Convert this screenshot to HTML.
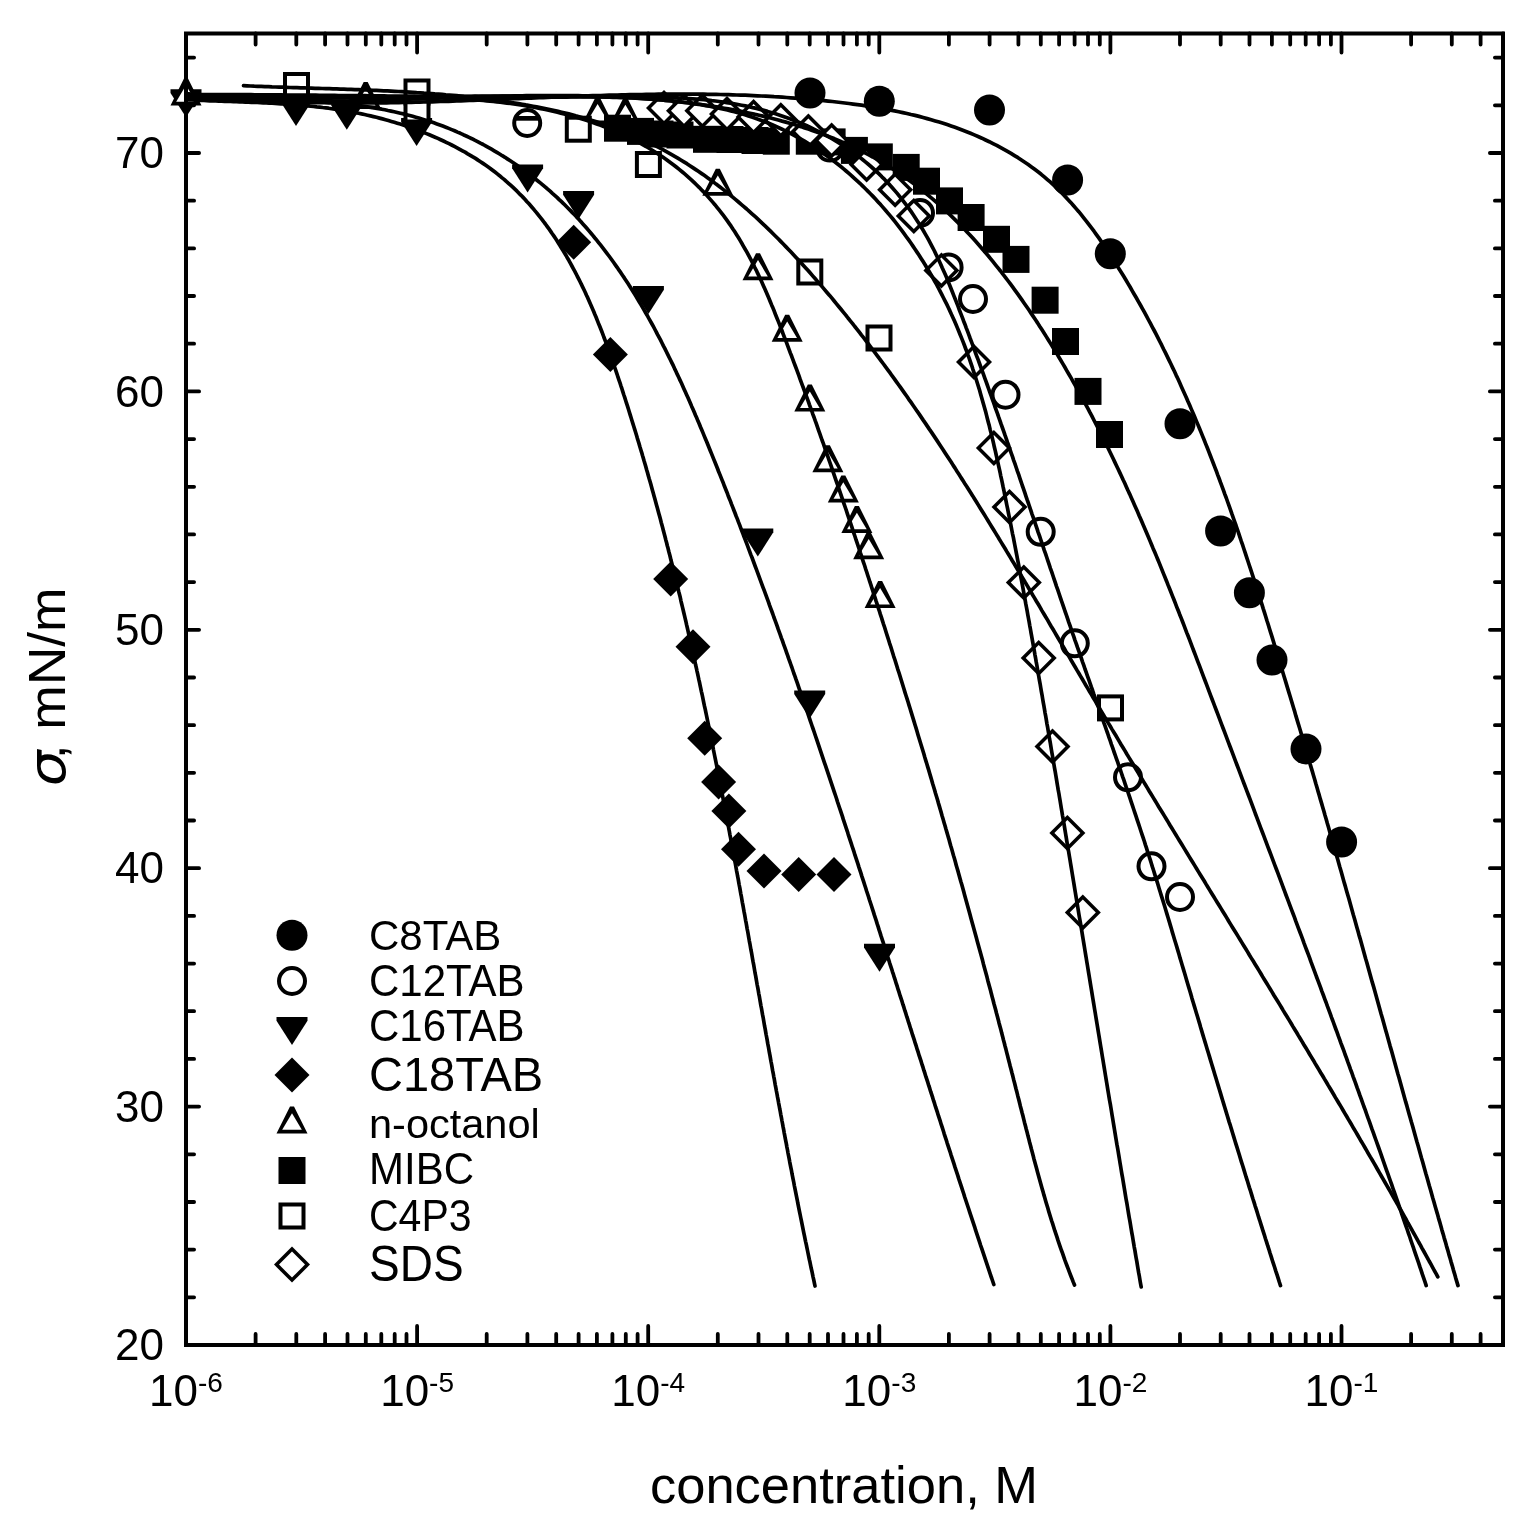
<!DOCTYPE html><html><head><meta charset="utf-8"><title>Surface tension vs concentration</title><style>html,body{margin:0;padding:0;background:#fff;}svg{display:block;}text{font-family:"Liberation Sans",Arial,sans-serif;fill:#000;}</style></head><body>
<svg width="1525" height="1525" viewBox="0 0 1525 1525">
<rect width="1525" height="1525" fill="#fff"/>
<g fill="#000">
<circle cx="810" cy="93" r="15.5" fill="#000"/>
<circle cx="879.3" cy="101.3" r="15.5" fill="#000"/>
<circle cx="989.5" cy="110" r="15.5" fill="#000"/>
<circle cx="1067.6" cy="180" r="15.5" fill="#000"/>
<circle cx="1110.3" cy="253.7" r="15.5" fill="#000"/>
<circle cx="1180" cy="423.7" r="15.5" fill="#000"/>
<circle cx="1220.6" cy="531" r="15.5" fill="#000"/>
<circle cx="1249.4" cy="592.8" r="15.5" fill="#000"/>
<circle cx="1272" cy="660" r="15.5" fill="#000"/>
<circle cx="1306" cy="749" r="15.5" fill="#000"/>
<circle cx="1341.6" cy="842" r="15.5" fill="#000"/>
<circle cx="527.2" cy="123" r="13" fill="#fff" stroke="#000" stroke-width="4"/>
<circle cx="830" cy="147.6" r="13" fill="#fff" stroke="#000" stroke-width="4"/>
<circle cx="920" cy="213" r="13" fill="#fff" stroke="#000" stroke-width="4"/>
<circle cx="948.6" cy="267.4" r="13" fill="#fff" stroke="#000" stroke-width="4"/>
<circle cx="973" cy="299" r="13" fill="#fff" stroke="#000" stroke-width="4"/>
<circle cx="1005.5" cy="394.7" r="13" fill="#fff" stroke="#000" stroke-width="4"/>
<circle cx="1040.7" cy="531.8" r="13" fill="#fff" stroke="#000" stroke-width="4"/>
<circle cx="1074.8" cy="643.3" r="13" fill="#fff" stroke="#000" stroke-width="4"/>
<circle cx="1128" cy="777.3" r="13" fill="#fff" stroke="#000" stroke-width="4"/>
<circle cx="1151.5" cy="866.3" r="13" fill="#fff" stroke="#000" stroke-width="4"/>
<circle cx="1180" cy="897" r="13" fill="#fff" stroke="#000" stroke-width="4"/>
<rect x="515" y="116" width="25" height="4.7" fill="#000"/>
<polygon fill="#000" points="170.50,89.30 201.50,89.30 201.50,93.00 186.00,117.30 170.50,93.00"/>
<polygon fill="#000" points="280.50,98.10 311.50,98.10 311.50,101.80 296.00,126.10 280.50,101.80"/>
<polygon fill="#000" points="331.30,101.80 362.30,101.80 362.30,105.50 346.80,129.80 331.30,105.50"/>
<polygon fill="#000" points="401.10,118.10 432.10,118.10 432.10,121.80 416.60,146.10 401.10,121.80"/>
<polygon fill="#000" points="512.10,164.50 543.10,164.50 543.10,168.20 527.60,192.50 512.10,168.20"/>
<polygon fill="#000" points="563.10,191.00 594.10,191.00 594.10,194.70 578.60,219.00 563.10,194.70"/>
<polygon fill="#000" points="632.90,286.00 663.90,286.00 663.90,289.70 648.40,314.00 632.90,289.70"/>
<polygon fill="#000" points="742.30,528.60 773.30,528.60 773.30,532.30 757.80,556.60 742.30,532.30"/>
<polygon fill="#000" points="794.20,690.40 825.20,690.40 825.20,694.10 809.70,718.40 794.20,694.10"/>
<polygon fill="#000" points="864.00,943.70 895.00,943.70 895.00,947.40 879.50,971.70 864.00,947.40"/>
<polygon fill="#000" points="573.70,224.80 591.20,242.30 573.70,259.80 556.20,242.30"/>
<polygon fill="#000" points="610.40,337.00 627.90,354.50 610.40,372.00 592.90,354.50"/>
<polygon fill="#000" points="670.70,561.50 688.20,579.00 670.70,596.50 653.20,579.00"/>
<polygon fill="#000" points="693.00,629.30 710.50,646.80 693.00,664.30 675.50,646.80"/>
<polygon fill="#000" points="704.70,720.80 722.20,738.30 704.70,755.80 687.20,738.30"/>
<polygon fill="#000" points="718.60,764.50 736.10,782.00 718.60,799.50 701.10,782.00"/>
<polygon fill="#000" points="728.90,793.50 746.40,811.00 728.90,828.50 711.40,811.00"/>
<polygon fill="#000" points="738.50,831.70 756.00,849.20 738.50,866.70 721.00,849.20"/>
<polygon fill="#000" points="764.00,853.50 781.50,871.00 764.00,888.50 746.50,871.00"/>
<polygon fill="#000" points="798.70,857.10 816.20,874.60 798.70,892.10 781.20,874.60"/>
<polygon fill="#000" points="834.00,857.10 851.50,874.60 834.00,892.10 816.50,874.60"/>
<polygon fill="#000" points="170.50,105.40 201.50,105.40 188.00,78.40 184.00,78.40"/><polygon fill="#fff" points="176.20,101.70 195.80,101.70 186.00,85.20"/>
<polygon fill="#000" points="350.20,109.10 381.20,109.10 367.70,82.10 363.70,82.10"/><polygon fill="#fff" points="355.90,105.40 375.50,105.40 365.70,88.90"/>
<polygon fill="#000" points="582.10,124.10 613.10,124.10 599.60,97.10 595.60,97.10"/><polygon fill="#fff" points="587.80,120.40 607.40,120.40 597.60,103.90"/>
<polygon fill="#000" points="609.90,124.90 640.90,124.90 627.40,97.90 623.40,97.90"/><polygon fill="#fff" points="615.60,121.20 635.20,121.20 625.40,104.70"/>
<polygon fill="#000" points="702.30,195.70 733.30,195.70 719.80,168.70 715.80,168.70"/><polygon fill="#fff" points="708.00,192.00 727.60,192.00 717.80,175.50"/>
<polygon fill="#000" points="742.50,280.20 773.50,280.20 760.00,253.20 756.00,253.20"/><polygon fill="#fff" points="748.20,276.50 767.80,276.50 758.00,260.00"/>
<polygon fill="#000" points="771.70,341.70 802.70,341.70 789.20,314.70 785.20,314.70"/><polygon fill="#fff" points="777.40,338.00 797.00,338.00 787.20,321.50"/>
<polygon fill="#000" points="794.30,411.60 825.30,411.60 811.80,384.60 807.80,384.60"/><polygon fill="#fff" points="800.00,407.90 819.60,407.90 809.80,391.40"/>
<polygon fill="#000" points="812.40,472.30 843.40,472.30 829.90,445.30 825.90,445.30"/><polygon fill="#fff" points="818.10,468.60 837.70,468.60 827.90,452.10"/>
<polygon fill="#000" points="827.80,502.50 858.80,502.50 845.30,475.50 841.30,475.50"/><polygon fill="#fff" points="833.50,498.80 853.10,498.80 843.30,482.30"/>
<polygon fill="#000" points="841.40,532.90 872.40,532.90 858.90,505.90 854.90,505.90"/><polygon fill="#fff" points="847.10,529.20 866.70,529.20 856.90,512.70"/>
<polygon fill="#000" points="853.20,559.30 884.20,559.30 870.70,532.30 866.70,532.30"/><polygon fill="#fff" points="858.90,555.60 878.50,555.60 868.70,539.10"/>
<polygon fill="#000" points="864.60,608.10 895.60,608.10 882.10,581.10 878.10,581.10"/><polygon fill="#fff" points="870.30,604.40 889.90,604.40 880.10,587.90"/>
<rect fill="#000" x="604.0" y="114.69999999999999" width="27" height="27"/>
<rect fill="#000" x="627.0" y="117.9" width="27" height="27"/>
<rect fill="#000" x="646.5" y="120.5" width="27" height="27"/>
<rect fill="#000" x="666.5" y="121.5" width="27" height="27"/>
<rect fill="#000" x="693.0" y="125.80000000000001" width="27" height="27"/>
<rect fill="#000" x="716.5" y="126.0" width="27" height="27"/>
<rect fill="#000" x="741.5" y="127.0" width="27" height="27"/>
<rect fill="#000" x="762.8" y="127.69999999999999" width="27" height="27"/>
<rect fill="#000" x="795.8" y="127.69999999999999" width="27" height="27"/>
<rect fill="#000" x="818.6" y="128.4" width="27" height="27"/>
<rect fill="#000" x="840.9" y="136.9" width="27" height="27"/>
<rect fill="#000" x="865.8" y="143.4" width="27" height="27"/>
<rect fill="#000" x="892.7" y="153.9" width="27" height="27"/>
<rect fill="#000" x="913.0" y="167.7" width="27" height="27"/>
<rect fill="#000" x="936.0" y="187.4" width="27" height="27"/>
<rect fill="#000" x="957.6" y="204.0" width="27" height="27"/>
<rect fill="#000" x="983.0" y="225.8" width="27" height="27"/>
<rect fill="#000" x="1002.5" y="245.89999999999998" width="27" height="27"/>
<rect fill="#000" x="1031.6" y="286.7" width="27" height="27"/>
<rect fill="#000" x="1052.0" y="328.0" width="27" height="27"/>
<rect fill="#000" x="1074.5" y="377.9" width="27" height="27"/>
<rect fill="#000" x="1096.0" y="421.0" width="27" height="27"/>
<rect fill="#000" x="283.0" y="72.0" width="27" height="27"/><rect fill="#fff" x="287.0" y="76.0" width="19" height="19"/>
<rect fill="#000" x="403.5" y="78.5" width="27" height="27"/><rect fill="#fff" x="407.5" y="82.5" width="19" height="19"/>
<rect fill="#000" x="403.5" y="96.5" width="27" height="27"/><rect fill="#fff" x="407.5" y="100.5" width="19" height="19"/>
<rect fill="#000" x="564.8" y="115.69999999999999" width="27" height="27"/><rect fill="#fff" x="568.8" y="119.69999999999999" width="19" height="19"/>
<rect fill="#000" x="634.9" y="151.0" width="27" height="27"/><rect fill="#fff" x="638.9" y="155.0" width="19" height="19"/>
<rect fill="#000" x="796.3" y="258.5" width="27" height="27"/><rect fill="#fff" x="800.3" y="262.5" width="19" height="19"/>
<rect fill="#000" x="865.5" y="324.5" width="27" height="27"/><rect fill="#fff" x="869.5" y="328.5" width="19" height="19"/>
<rect fill="#000" x="1097.0" y="694.4" width="27" height="27"/><rect fill="#fff" x="1101.0" y="698.4" width="19" height="19"/>
<polygon fill="#000" points="664.00,90.00 682.00,108.00 664.00,126.00 646.00,108.00"/><polygon fill="#fff" points="664.00,95.00 677.00,108.00 664.00,121.00 651.00,108.00"/>
<polygon fill="#000" points="684.00,92.70 702.00,110.70 684.00,128.70 666.00,110.70"/><polygon fill="#fff" points="684.00,97.70 697.00,110.70 684.00,123.70 671.00,110.70"/>
<polygon fill="#000" points="702.40,92.70 720.40,110.70 702.40,128.70 684.40,110.70"/><polygon fill="#fff" points="702.40,97.70 715.40,110.70 702.40,123.70 689.40,110.70"/>
<polygon fill="#000" points="727.00,96.00 745.00,114.00 727.00,132.00 709.00,114.00"/><polygon fill="#fff" points="727.00,101.00 740.00,114.00 727.00,127.00 714.00,114.00"/>
<polygon fill="#000" points="753.60,99.00 771.60,117.00 753.60,135.00 735.60,117.00"/><polygon fill="#fff" points="753.60,104.00 766.60,117.00 753.60,130.00 740.60,117.00"/>
<polygon fill="#000" points="780.80,102.20 798.80,120.20 780.80,138.20 762.80,120.20"/><polygon fill="#fff" points="780.80,107.20 793.80,120.20 780.80,133.20 767.80,120.20"/>
<polygon fill="#000" points="808.40,113.60 826.40,131.60 808.40,149.60 790.40,131.60"/><polygon fill="#fff" points="808.40,118.60 821.40,131.60 808.40,144.60 795.40,131.60"/>
<polygon fill="#000" points="831.60,122.60 849.60,140.60 831.60,158.60 813.60,140.60"/><polygon fill="#fff" points="831.60,127.60 844.60,140.60 831.60,153.60 818.60,140.60"/>
<polygon fill="#000" points="866.60,146.50 884.60,164.50 866.60,182.50 848.60,164.50"/><polygon fill="#fff" points="866.60,151.50 879.60,164.50 866.60,177.50 853.60,164.50"/>
<polygon fill="#000" points="895.10,171.80 913.10,189.80 895.10,207.80 877.10,189.80"/><polygon fill="#fff" points="895.10,176.80 908.10,189.80 895.10,202.80 882.10,189.80"/>
<polygon fill="#000" points="913.80,198.00 931.80,216.00 913.80,234.00 895.80,216.00"/><polygon fill="#fff" points="913.80,203.00 926.80,216.00 913.80,229.00 900.80,216.00"/>
<polygon fill="#000" points="941.40,252.60 959.40,270.60 941.40,288.60 923.40,270.60"/><polygon fill="#fff" points="941.40,257.60 954.40,270.60 941.40,283.60 928.40,270.60"/>
<polygon fill="#000" points="974.00,344.00 992.00,362.00 974.00,380.00 956.00,362.00"/><polygon fill="#fff" points="974.00,349.00 987.00,362.00 974.00,375.00 961.00,362.00"/>
<polygon fill="#000" points="993.90,430.00 1011.90,448.00 993.90,466.00 975.90,448.00"/><polygon fill="#fff" points="993.90,435.00 1006.90,448.00 993.90,461.00 980.90,448.00"/>
<polygon fill="#000" points="1009.50,489.00 1027.50,507.00 1009.50,525.00 991.50,507.00"/><polygon fill="#fff" points="1009.50,494.00 1022.50,507.00 1009.50,520.00 996.50,507.00"/>
<polygon fill="#000" points="1023.80,564.60 1041.80,582.60 1023.80,600.60 1005.80,582.60"/><polygon fill="#fff" points="1023.80,569.60 1036.80,582.60 1023.80,595.60 1010.80,582.60"/>
<polygon fill="#000" points="1038.70,640.00 1056.70,658.00 1038.70,676.00 1020.70,658.00"/><polygon fill="#fff" points="1038.70,645.00 1051.70,658.00 1038.70,671.00 1025.70,658.00"/>
<polygon fill="#000" points="1052.50,728.60 1070.50,746.60 1052.50,764.60 1034.50,746.60"/><polygon fill="#fff" points="1052.50,733.60 1065.50,746.60 1052.50,759.60 1039.50,746.60"/>
<polygon fill="#000" points="1067.40,815.00 1085.40,833.00 1067.40,851.00 1049.40,833.00"/><polygon fill="#fff" points="1067.40,820.00 1080.40,833.00 1067.40,846.00 1054.40,833.00"/>
<polygon fill="#000" points="1082.80,894.50 1100.80,912.50 1082.80,930.50 1064.80,912.50"/><polygon fill="#fff" points="1082.80,899.50 1095.80,912.50 1082.80,925.50 1069.80,912.50"/>
</g>
<g fill="none" stroke="#000" stroke-width="3.7" stroke-linejoin="round" stroke-linecap="round">
<path d="M186.0,99.6 L189.0,99.8 L192.0,99.9 L194.9,100.1 L197.9,100.2 L200.9,100.4 L203.9,100.5 L206.8,100.6 L209.8,100.8 L212.8,100.9 L215.7,101.0 L218.7,101.1 L221.7,101.2 L224.6,101.3 L227.6,101.4 L230.6,101.5 L233.5,101.6 L236.5,101.7 L239.5,101.8 L242.4,102.0 L245.4,102.1 L248.4,102.2 L251.4,102.3 L254.3,102.4 L257.3,102.5 L260.3,102.7 L263.2,102.8 L266.2,102.9 L269.2,103.1 L272.1,103.2 L275.1,103.4 L278.1,103.6 L281.0,103.8 L284.0,103.9 L287.0,104.1 L289.9,104.3 L292.9,104.6 L295.9,104.8 L298.9,105.0 L301.8,105.3 L304.8,105.6 L307.8,105.8 L310.8,106.1 L313.7,106.4 L316.7,106.8 L319.7,107.1 L322.7,107.5 L325.7,107.8 L328.6,108.2 L331.6,108.7 L334.6,109.1 L337.6,109.5 L340.6,110.0 L343.6,110.5 L346.5,111.0 L349.5,111.5 L352.5,112.1 L355.5,112.7 L358.5,113.3 L361.5,113.9 L364.5,114.5 L367.5,115.2 L370.5,115.9 L373.5,116.6 L376.5,117.3 L379.5,118.1 L382.5,118.9 L385.5,119.7 L388.4,120.5 L391.4,121.4 L394.4,122.3 L397.3,123.2 L400.3,124.1 L403.2,125.1 L406.2,126.1 L409.1,127.1 L412.1,128.1 L415.0,129.2 L417.9,130.2 L420.8,131.3 L423.7,132.5 L426.5,133.6 L429.4,134.8 L432.2,136.0 L435.1,137.2 L437.9,138.4 L440.7,139.7 L443.5,141.0 L446.2,142.3 L449.0,143.7 L451.7,145.0 L454.4,146.4 L457.1,147.8 L459.8,149.3 L462.5,150.8 L465.1,152.2 L467.7,153.8 L470.3,155.3 L472.9,156.9 L475.5,158.4 L478.0,160.1 L480.5,161.7 L483.0,163.4 L485.4,165.1 L487.9,166.8 L490.3,168.5 L492.6,170.3 L495.0,172.1 L497.3,173.9 L499.6,175.7 L501.8,177.6 L504.1,179.4 L506.3,181.4 L508.5,183.3 L510.6,185.2 L512.8,187.2 L514.9,189.2 L517.0,191.2 L519.0,193.3 L521.1,195.3 L523.1,197.4 L525.1,199.5 L527.0,201.7 L529.0,203.8 L530.9,206.0 L532.8,208.2 L534.6,210.4 L536.5,212.6 L538.3,214.9 L540.1,217.1 L541.9,219.4 L543.6,221.7 L545.4,224.0 L547.1,226.4 L548.8,228.7 L550.5,231.1 L552.1,233.5 L553.8,235.9 L555.4,238.3 L557.0,240.8 L558.5,243.2 L560.1,245.7 L561.6,248.2 L563.2,250.7 L564.7,253.2 L566.2,255.7 L567.6,258.3 L569.1,260.8 L570.5,263.4 L571.9,266.0 L573.3,268.6 L574.7,271.2 L576.1,273.8 L577.4,276.5 L578.8,279.1 L580.1,281.8 L581.4,284.4 L582.7,287.1 L584.0,289.8 L585.3,292.5 L586.5,295.2 L587.8,297.9 L589.0,300.7 L590.2,303.4 L591.4,306.2 L592.6,308.9 L593.8,311.7 L594.9,314.5 L596.1,317.3 L597.2,320.1 L598.3,322.9 L599.5,325.7 L600.6,328.5 L601.7,331.3 L602.8,334.1 L603.8,337.0 L604.9,339.8 L606.0,342.7 L607.0,345.5 L608.1,348.4 L609.1,351.2 L610.1,354.1 L611.1,357.0 L612.1,359.8 L613.1,362.7 L614.1,365.6 L615.1,368.5 L616.1,371.4 L617.1,374.3 L618.0,377.2 L619.0,380.1 L620.0,382.9 L620.9,385.8 L621.9,388.7 L622.8,391.6 L623.7,394.5 L624.7,397.4 L625.6,400.3 L626.5,403.2 L627.5,406.1 L628.4,409.0 L629.3,412.0 L630.2,414.9 L631.1,417.8 L632.0,420.7 L632.9,423.6 L633.8,426.5 L634.7,429.4 L635.6,432.3 L636.5,435.2 L637.3,438.1 L638.2,441.0 L639.1,443.9 L639.9,446.8 L640.8,449.7 L641.7,452.6 L642.5,455.5 L643.4,458.4 L644.2,461.3 L645.1,464.2 L645.9,467.1 L646.7,470.0 L647.6,472.9 L648.4,475.9 L649.2,478.8 L650.1,481.7 L650.9,484.6 L651.7,487.5 L652.5,490.4 L653.3,493.3 L654.1,496.2 L654.9,499.1 L655.7,502.0 L656.5,504.9 L657.3,507.8 L658.1,510.8 L658.9,513.7 L659.7,516.6 L660.5,519.5 L661.2,522.4 L662.0,525.3 L662.8,528.2 L663.5,531.1 L664.3,534.0 L665.1,537.0 L665.8,539.9 L666.6,542.8 L667.3,545.7 L668.1,548.6 L668.8,551.5 L669.6,554.4 L670.3,557.3 L671.0,560.3 L671.8,563.2 L672.5,566.1 L673.2,569.0 L674.0,571.9 L674.7,574.8 L675.4,577.7 L676.1,580.7 L676.8,583.6 L677.5,586.5 L678.2,589.4 L678.9,592.3 L679.7,595.2 L680.4,598.2 L681.0,601.1 L681.7,604.0 L682.4,606.9 L683.1,609.8 L683.8,612.7 L684.5,615.7 L685.2,618.6 L685.9,621.5 L686.5,624.4 L687.2,627.3 L687.9,630.3 L688.5,633.2 L689.2,636.1 L689.9,639.0 L690.5,641.9 L691.2,644.9 L691.9,647.8 L692.5,650.7 L693.2,653.6 L693.8,656.5 L694.5,659.5 L695.1,662.4 L695.7,665.3 L696.4,668.2 L697.0,671.1 L697.7,674.1 L698.3,677.0 L698.9,679.9 L699.6,682.8 L700.2,685.8 L700.8,688.7 L701.4,691.6 L702.1,694.5 L702.7,697.4 L703.3,700.4 L703.9,703.3 L704.5,706.2 L705.2,709.1 L705.8,712.1 L706.4,715.0 L707.0,717.9 L707.6,720.8 L708.2,723.8 L708.8,726.7 L709.4,729.6 L710.0,732.6 L710.6,735.5 L711.2,738.4 L711.8,741.3 L712.4,744.3 L713.0,747.2 L713.5,750.1 L714.1,753.0 L714.7,756.0 L715.3,758.9 L715.9,761.8 L716.5,764.8 L717.0,767.7 L717.6,770.6 L718.2,773.5 L718.8,776.5 L719.3,779.4 L719.9,782.3 L720.5,785.3 L721.1,788.2 L721.6,791.1 L722.2,794.1 L722.8,797.0 L723.3,799.9 L723.9,802.8 L724.4,805.8 L725.0,808.7 L725.6,811.6 L726.1,814.6 L726.7,817.5 L727.2,820.4 L727.8,823.4 L728.4,826.3 L728.9,829.2 L729.5,832.2 L730.0,835.1 L730.6,838.0 L731.1,841.0 L731.7,843.9 L732.2,846.8 L732.7,849.8 L733.3,852.7 L733.8,855.6 L734.4,858.6 L734.9,861.5 L735.5,864.4 L736.0,867.4 L736.5,870.3 L737.1,873.3 L737.6,876.2 L738.2,879.1 L738.7,882.1 L739.2,885.0 L739.8,887.9 L740.3,890.9 L740.8,893.8 L741.4,896.7 L741.9,899.7 L742.4,902.6 L743.0,905.6 L743.5,908.5 L744.0,911.4 L744.6,914.4 L745.1,917.3 L745.6,920.3 L746.2,923.2 L746.7,926.1 L747.2,929.1 L747.8,932.0 L748.3,935.0 L748.8,937.9 L749.3,940.8 L749.9,943.8 L750.4,946.7 L750.9,949.7 L751.5,952.6 L752.0,955.5 L752.5,958.5 L753.0,961.4 L753.6,964.4 L754.1,967.3 L754.6,970.2 L755.1,973.2 L755.7,976.1 L756.2,979.1 L756.7,982.0 L757.2,985.0 L757.8,987.9 L758.3,990.8 L758.8,993.8 L759.4,996.7 L759.9,999.7 L760.4,1002.6 L760.9,1005.6 L761.5,1008.5 L762.0,1011.5 L762.5,1014.4 L763.1,1017.3 L763.6,1020.3 L764.1,1023.2 L764.6,1026.2 L765.2,1029.1 L765.7,1032.1 L766.2,1035.0 L766.8,1038.0 L767.3,1040.9 L767.8,1043.9 L768.4,1046.8 L768.9,1049.7 L769.4,1052.7 L770.0,1055.6 L770.5,1058.6 L771.0,1061.5 L771.6,1064.5 L772.1,1067.4 L772.6,1070.4 L773.2,1073.3 L773.7,1076.3 L774.3,1079.2 L774.8,1082.2 L775.3,1085.1 L775.9,1088.1 L776.4,1091.0 L777.0,1094.0 L777.5,1096.9 L778.1,1099.9 L778.6,1102.8 L779.2,1105.8 L779.7,1108.7 L780.3,1111.7 L780.8,1114.6 L781.4,1117.6 L781.9,1120.5 L782.5,1123.5 L783.0,1126.4 L783.6,1129.4 L784.1,1132.3 L784.7,1135.3 L785.2,1138.2 L785.8,1141.2 L786.4,1144.1 L786.9,1147.1 L787.5,1150.0 L788.0,1153.0 L788.6,1155.9 L789.2,1158.9 L789.7,1161.8 L790.3,1164.8 L790.9,1167.8 L791.5,1170.7 L792.0,1173.7 L792.6,1176.6 L793.2,1179.6 L793.8,1182.5 L794.3,1185.5 L794.9,1188.4 L795.5,1191.4 L796.1,1194.3 L796.7,1197.3 L797.3,1200.3 L797.8,1203.2 L798.4,1206.2 L799.0,1209.1 L799.6,1212.1 L800.2,1215.0 L800.8,1218.0 L801.4,1220.9 L802.0,1223.9 L802.6,1226.9 L803.2,1229.8 L803.8,1232.8 L804.4,1235.7 L805.0,1238.7 L805.6,1241.6 L806.3,1244.6 L806.9,1247.6 L807.5,1250.5 L808.1,1253.5 L808.7,1256.4 L809.3,1259.4 L810.0,1262.3 L810.6,1265.3 L811.2,1268.3 L811.9,1271.2 L812.5,1274.2 L813.1,1277.1 L813.8,1280.1 L814.4,1283.1 L815.0,1286.0"/>
<path d="M186.0,98.2 L189.0,98.3 L192.1,98.3 L195.2,98.4 L198.2,98.4 L201.3,98.5 L204.4,98.5 L207.5,98.5 L210.5,98.6 L213.6,98.6 L216.8,98.6 L219.9,98.6 L223.0,98.7 L226.1,98.7 L229.2,98.7 L232.4,98.7 L235.5,98.8 L238.7,98.8 L241.8,98.8 L245.0,98.9 L248.2,98.9 L251.3,98.9 L254.5,99.0 L257.7,99.0 L260.8,99.1 L264.0,99.1 L267.2,99.2 L270.4,99.3 L273.6,99.4 L276.8,99.4 L280.0,99.5 L283.2,99.6 L286.3,99.7 L289.5,99.9 L292.7,100.0 L295.9,100.1 L299.1,100.3 L302.3,100.4 L305.5,100.6 L308.7,100.8 L311.9,101.0 L315.1,101.2 L318.3,101.4 L321.5,101.6 L324.7,101.9 L327.9,102.2 L331.1,102.4 L334.3,102.7 L337.5,103.0 L340.7,103.3 L343.9,103.7 L347.0,104.0 L350.2,104.4 L353.4,104.8 L356.6,105.2 L359.7,105.7 L362.9,106.1 L366.0,106.6 L369.2,107.1 L372.3,107.6 L375.5,108.1 L378.6,108.7 L381.7,109.2 L384.9,109.8 L388.0,110.5 L391.1,111.1 L394.2,111.8 L397.3,112.5 L400.4,113.2 L403.5,113.9 L406.6,114.7 L409.6,115.5 L412.7,116.3 L415.8,117.2 L418.8,118.0 L421.8,118.9 L424.9,119.9 L427.9,120.8 L430.9,121.8 L433.9,122.8 L436.9,123.9 L439.9,125.0 L442.8,126.1 L445.8,127.2 L448.7,128.4 L451.7,129.6 L454.6,130.8 L457.5,132.1 L460.4,133.3 L463.3,134.7 L466.2,136.0 L469.1,137.4 L471.9,138.7 L474.7,140.2 L477.6,141.6 L480.4,143.1 L483.2,144.5 L486.0,146.1 L488.7,147.6 L491.5,149.2 L494.2,150.8 L496.9,152.4 L499.6,154.0 L502.3,155.7 L505.0,157.3 L507.7,159.1 L510.3,160.8 L512.9,162.5 L515.5,164.3 L518.1,166.1 L520.7,167.9 L523.3,169.7 L525.8,171.6 L528.3,173.5 L530.8,175.4 L533.3,177.3 L535.7,179.2 L538.2,181.2 L540.6,183.1 L543.0,185.1 L545.4,187.1 L547.7,189.2 L550.1,191.2 L552.4,193.3 L554.7,195.3 L557.0,197.4 L559.2,199.6 L561.5,201.7 L563.7,203.8 L565.9,206.0 L568.1,208.2 L570.3,210.4 L572.4,212.6 L574.6,214.8 L576.7,217.1 L578.8,219.3 L580.8,221.6 L582.9,223.9 L585.0,226.2 L587.0,228.5 L589.0,230.9 L591.0,233.2 L593.0,235.6 L594.9,238.0 L596.9,240.4 L598.8,242.8 L600.7,245.2 L602.6,247.6 L604.5,250.1 L606.4,252.6 L608.2,255.0 L610.1,257.5 L611.9,260.0 L613.7,262.5 L615.5,265.1 L617.3,267.6 L619.0,270.2 L620.8,272.7 L622.5,275.3 L624.3,277.9 L626.0,280.5 L627.7,283.1 L629.4,285.7 L631.0,288.3 L632.7,291.0 L634.3,293.6 L636.0,296.3 L637.6,299.0 L639.2,301.7 L640.8,304.4 L642.4,307.1 L644.0,309.8 L645.5,312.5 L647.1,315.2 L648.6,318.0 L650.1,320.7 L651.7,323.5 L653.2,326.2 L654.7,329.0 L656.2,331.8 L657.6,334.6 L659.1,337.4 L660.6,340.2 L662.0,343.0 L663.4,345.8 L664.9,348.6 L666.3,351.5 L667.7,354.3 L669.1,357.2 L670.5,360.0 L671.9,362.9 L673.3,365.7 L674.6,368.6 L676.0,371.5 L677.3,374.4 L678.7,377.3 L680.0,380.1 L681.4,383.0 L682.7,385.9 L684.0,388.9 L685.3,391.8 L686.6,394.7 L687.9,397.6 L689.2,400.5 L690.5,403.5 L691.7,406.4 L693.0,409.3 L694.3,412.3 L695.5,415.2 L696.8,418.1 L698.0,421.1 L699.3,424.0 L700.5,427.0 L701.8,430.0 L703.0,432.9 L704.2,435.9 L705.4,438.8 L706.7,441.8 L707.9,444.8 L709.1,447.7 L710.3,450.7 L711.5,453.6 L712.7,456.6 L713.9,459.6 L715.1,462.5 L716.3,465.5 L717.5,468.5 L718.6,471.5 L719.8,474.4 L721.0,477.4 L722.2,480.4 L723.4,483.3 L724.5,486.3 L725.7,489.3 L726.9,492.2 L728.0,495.2 L729.2,498.2 L730.4,501.1 L731.5,504.1 L732.7,507.1 L733.8,510.0 L735.0,513.0 L736.1,516.0 L737.3,518.9 L738.4,521.9 L739.6,524.9 L740.7,527.9 L741.8,530.8 L743.0,533.8 L744.1,536.8 L745.2,539.7 L746.4,542.7 L747.5,545.7 L748.6,548.6 L749.7,551.6 L750.8,554.6 L752.0,557.5 L753.1,560.5 L754.2,563.5 L755.3,566.5 L756.4,569.4 L757.5,572.4 L758.6,575.4 L759.7,578.3 L760.8,581.3 L761.9,584.3 L763.0,587.3 L764.1,590.2 L765.2,593.2 L766.3,596.2 L767.4,599.1 L768.5,602.1 L769.5,605.1 L770.6,608.1 L771.7,611.0 L772.8,614.0 L773.8,617.0 L774.9,619.9 L776.0,622.9 L777.1,625.9 L778.1,628.9 L779.2,631.8 L780.3,634.8 L781.3,637.8 L782.4,640.7 L783.4,643.7 L784.5,646.7 L785.6,649.7 L786.6,652.6 L787.7,655.6 L788.7,658.6 L789.8,661.6 L790.8,664.5 L791.9,667.5 L792.9,670.5 L793.9,673.5 L795.0,676.4 L796.0,679.4 L797.1,682.4 L798.1,685.4 L799.1,688.3 L800.2,691.3 L801.2,694.3 L802.2,697.3 L803.3,700.2 L804.3,703.2 L805.3,706.2 L806.3,709.2 L807.4,712.1 L808.4,715.1 L809.4,718.1 L810.4,721.1 L811.4,724.0 L812.4,727.0 L813.5,730.0 L814.5,733.0 L815.5,736.0 L816.5,738.9 L817.5,741.9 L818.5,744.9 L819.5,747.9 L820.5,750.8 L821.5,753.8 L822.5,756.8 L823.5,759.8 L824.5,762.8 L825.5,765.7 L826.5,768.7 L827.5,771.7 L828.5,774.7 L829.5,777.7 L830.5,780.6 L831.5,783.6 L832.5,786.6 L833.5,789.6 L834.5,792.6 L835.5,795.5 L836.5,798.5 L837.4,801.5 L838.4,804.5 L839.4,807.5 L840.4,810.4 L841.4,813.4 L842.4,816.4 L843.3,819.4 L844.3,822.4 L845.3,825.4 L846.3,828.3 L847.3,831.3 L848.2,834.3 L849.2,837.3 L850.2,840.3 L851.2,843.3 L852.1,846.2 L853.1,849.2 L854.1,852.2 L855.0,855.2 L856.0,858.2 L857.0,861.2 L858.0,864.1 L858.9,867.1 L859.9,870.1 L860.9,873.1 L861.8,876.1 L862.8,879.1 L863.8,882.1 L864.7,885.0 L865.7,888.0 L866.6,891.0 L867.6,894.0 L868.6,897.0 L869.5,900.0 L870.5,903.0 L871.5,906.0 L872.4,908.9 L873.4,911.9 L874.3,914.9 L875.3,917.9 L876.3,920.9 L877.2,923.9 L878.2,926.9 L879.1,929.9 L880.1,932.9 L881.0,935.9 L882.0,938.8 L883.0,941.8 L883.9,944.8 L884.9,947.8 L885.8,950.8 L886.8,953.8 L887.7,956.8 L888.7,959.8 L889.6,962.8 L890.6,965.8 L891.6,968.8 L892.5,971.8 L893.5,974.7 L894.4,977.7 L895.4,980.7 L896.3,983.7 L897.3,986.7 L898.2,989.7 L899.2,992.7 L900.1,995.7 L901.1,998.7 L902.1,1001.7 L903.0,1004.7 L904.0,1007.7 L904.9,1010.7 L905.9,1013.7 L906.8,1016.7 L907.8,1019.7 L908.7,1022.7 L909.7,1025.7 L910.6,1028.7 L911.6,1031.7 L912.5,1034.7 L913.5,1037.7 L914.5,1040.7 L915.4,1043.7 L916.4,1046.7 L917.3,1049.7 L918.3,1052.7 L919.2,1055.7 L920.2,1058.7 L921.2,1061.7 L922.1,1064.7 L923.1,1067.7 L924.0,1070.7 L925.0,1073.7 L925.9,1076.7 L926.9,1079.7 L927.9,1082.7 L928.8,1085.7 L929.8,1088.7 L930.7,1091.7 L931.7,1094.7 L932.7,1097.7 L933.6,1100.7 L934.6,1103.7 L935.5,1106.7 L936.5,1109.7 L937.5,1112.7 L938.4,1115.7 L939.4,1118.7 L940.4,1121.7 L941.3,1124.7 L942.3,1127.7 L943.3,1130.8 L944.2,1133.8 L945.2,1136.8 L946.2,1139.8 L947.1,1142.8 L948.1,1145.8 L949.1,1148.8 L950.1,1151.8 L951.0,1154.8 L952.0,1157.8 L953.0,1160.8 L954.0,1163.9 L954.9,1166.9 L955.9,1169.9 L956.9,1172.9 L957.9,1175.9 L958.8,1178.9 L959.8,1181.9 L960.8,1184.9 L961.8,1187.9 L962.8,1191.0 L963.8,1194.0 L964.7,1197.0 L965.7,1200.0 L966.7,1203.0 L967.7,1206.0 L968.7,1209.0 L969.7,1212.1 L970.7,1215.1 L971.7,1218.1 L972.7,1221.1 L973.7,1224.1 L974.7,1227.1 L975.6,1230.2 L976.6,1233.2 L977.6,1236.2 L978.6,1239.2 L979.6,1242.2 L980.6,1245.3 L981.7,1248.3 L982.7,1251.3 L983.7,1254.3 L984.7,1257.3 L985.7,1260.4 L986.7,1263.4 L987.7,1266.4 L988.7,1269.4 L989.7,1272.4 L990.7,1275.5 L991.8,1278.5 L992.8,1281.5 L993.8,1284.5"/>
<path d="M186.0,94.0 L189.3,94.4 L192.5,94.7 L195.8,95.1 L199.1,95.4 L202.4,95.7 L205.6,95.9 L208.9,96.2 L212.2,96.5 L215.6,96.7 L218.9,96.9 L222.2,97.1 L225.5,97.3 L228.9,97.5 L232.2,97.6 L235.5,97.8 L238.9,97.9 L242.3,98.0 L245.6,98.1 L249.0,98.2 L252.4,98.3 L255.7,98.4 L259.1,98.4 L262.5,98.5 L265.9,98.5 L269.3,98.5 L272.7,98.6 L276.1,98.6 L279.5,98.6 L282.9,98.6 L286.3,98.6 L289.7,98.6 L293.2,98.6 L296.6,98.5 L300.0,98.5 L303.4,98.5 L306.9,98.4 L310.3,98.4 L313.8,98.3 L317.2,98.3 L320.6,98.2 L324.1,98.2 L327.5,98.1 L331.0,98.1 L334.4,98.0 L337.9,97.9 L341.4,97.9 L344.8,97.8 L348.3,97.7 L351.7,97.7 L355.2,97.6 L358.7,97.6 L362.1,97.5 L365.6,97.5 L369.1,97.4 L372.5,97.4 L376.0,97.3 L379.5,97.3 L382.9,97.3 L386.4,97.2 L389.9,97.2 L393.4,97.2 L396.8,97.2 L400.3,97.2 L403.8,97.2 L407.2,97.2 L410.7,97.3 L414.2,97.3 L417.6,97.3 L421.1,97.4 L424.6,97.5 L428.0,97.5 L431.5,97.6 L434.9,97.7 L438.4,97.8 L441.9,97.9 L445.3,98.1 L448.8,98.2 L452.2,98.4 L455.7,98.5 L459.1,98.7 L462.6,98.9 L466.0,99.1 L469.4,99.4 L472.9,99.6 L476.3,99.9 L479.7,100.2 L483.2,100.5 L486.6,100.8 L490.0,101.1 L493.4,101.5 L496.8,101.8 L500.2,102.2 L503.6,102.6 L507.0,103.1 L510.4,103.5 L513.8,104.0 L517.2,104.5 L520.6,105.0 L524.0,105.5 L527.3,106.1 L530.7,106.7 L534.1,107.3 L537.4,107.9 L540.8,108.6 L544.1,109.3 L547.5,110.0 L550.8,110.7 L554.1,111.5 L557.4,112.3 L560.8,113.1 L564.1,113.9 L567.4,114.8 L570.7,115.7 L574.0,116.6 L577.3,117.6 L580.5,118.6 L583.8,119.6 L587.0,120.6 L590.3,121.7 L593.5,122.8 L596.7,123.9 L600.0,125.1 L603.1,126.3 L606.3,127.5 L609.5,128.8 L612.6,130.1 L615.8,131.4 L618.9,132.8 L622.0,134.2 L625.1,135.6 L628.1,137.1 L631.2,138.6 L634.2,140.1 L637.2,141.6 L640.2,143.2 L643.1,144.9 L646.1,146.5 L649.0,148.2 L651.9,150.0 L654.7,151.8 L657.6,153.6 L660.4,155.4 L663.1,157.3 L665.9,159.2 L668.6,161.2 L671.3,163.2 L674.0,165.2 L676.6,167.3 L679.2,169.4 L681.8,171.5 L684.4,173.7 L686.9,175.9 L689.4,178.1 L691.9,180.3 L694.3,182.6 L696.7,185.0 L699.1,187.3 L701.4,189.7 L703.8,192.1 L706.1,194.6 L708.3,197.1 L710.5,199.6 L712.7,202.1 L714.9,204.7 L717.0,207.3 L719.1,209.9 L721.2,212.6 L723.2,215.2 L725.2,217.9 L727.2,220.7 L729.1,223.4 L731.1,226.2 L732.9,229.0 L734.8,231.8 L736.6,234.7 L738.4,237.5 L740.1,240.4 L741.8,243.3 L743.5,246.3 L745.2,249.2 L746.9,252.2 L748.5,255.2 L750.1,258.2 L751.7,261.2 L753.2,264.2 L754.7,267.3 L756.3,270.3 L757.7,273.4 L759.2,276.5 L760.7,279.6 L762.1,282.7 L763.5,285.9 L764.9,289.0 L766.3,292.2 L767.6,295.3 L769.0,298.5 L770.3,301.7 L771.6,304.9 L773.0,308.1 L774.3,311.3 L775.5,314.5 L776.8,317.7 L778.1,320.9 L779.4,324.1 L780.6,327.3 L781.9,330.5 L783.1,333.8 L784.3,337.0 L785.6,340.2 L786.8,343.4 L788.0,346.7 L789.2,349.9 L790.4,353.1 L791.7,356.3 L792.9,359.6 L794.1,362.8 L795.3,366.0 L796.5,369.2 L797.7,372.4 L798.9,375.7 L800.0,378.9 L801.2,382.1 L802.4,385.3 L803.6,388.5 L804.8,391.8 L805.9,395.0 L807.1,398.2 L808.3,401.4 L809.4,404.6 L810.6,407.8 L811.8,411.0 L812.9,414.3 L814.1,417.5 L815.2,420.7 L816.4,423.9 L817.5,427.1 L818.6,430.3 L819.8,433.6 L820.9,436.8 L822.0,440.0 L823.2,443.2 L824.3,446.4 L825.4,449.6 L826.5,452.8 L827.7,456.1 L828.8,459.3 L829.9,462.5 L831.0,465.7 L832.1,468.9 L833.2,472.1 L834.3,475.3 L835.4,478.6 L836.5,481.8 L837.6,485.0 L838.7,488.2 L839.8,491.4 L840.9,494.6 L842.0,497.9 L843.1,501.1 L844.2,504.3 L845.3,507.5 L846.4,510.7 L847.4,513.9 L848.5,517.2 L849.6,520.4 L850.7,523.6 L851.8,526.8 L852.8,530.1 L853.9,533.3 L855.0,536.5 L856.0,539.7 L857.1,542.9 L858.2,546.2 L859.3,549.4 L860.3,552.6 L861.4,555.8 L862.4,559.1 L863.5,562.3 L864.6,565.5 L865.6,568.8 L866.7,572.0 L867.7,575.2 L868.8,578.5 L869.8,581.7 L870.9,584.9 L871.9,588.2 L873.0,591.4 L874.0,594.6 L875.1,597.9 L876.1,601.1 L877.2,604.3 L878.2,607.6 L879.3,610.8 L880.3,614.1 L881.4,617.3 L882.4,620.6 L883.4,623.8 L884.5,627.0 L885.5,630.3 L886.5,633.5 L887.6,636.8 L888.6,640.0 L889.6,643.3 L890.7,646.5 L891.7,649.8 L892.7,653.0 L893.7,656.3 L894.8,659.5 L895.8,662.8 L896.8,666.0 L897.8,669.3 L898.9,672.5 L899.9,675.8 L900.9,679.0 L901.9,682.3 L902.9,685.5 L903.9,688.8 L904.9,692.1 L905.9,695.3 L907.0,698.6 L908.0,701.8 L909.0,705.1 L910.0,708.3 L911.0,711.6 L912.0,714.9 L913.0,718.1 L914.0,721.4 L915.0,724.7 L916.0,727.9 L917.0,731.2 L917.9,734.4 L918.9,737.7 L919.9,741.0 L920.9,744.2 L921.9,747.5 L922.9,750.8 L923.9,754.0 L924.8,757.3 L925.8,760.6 L926.8,763.8 L927.8,767.1 L928.8,770.4 L929.7,773.6 L930.7,776.9 L931.7,780.2 L932.6,783.5 L933.6,786.7 L934.6,790.0 L935.5,793.3 L936.5,796.5 L937.5,799.8 L938.4,803.1 L939.4,806.4 L940.3,809.6 L941.3,812.9 L942.2,816.2 L943.2,819.5 L944.1,822.7 L945.1,826.0 L946.0,829.3 L947.0,832.6 L947.9,835.8 L948.9,839.1 L949.8,842.4 L950.7,845.7 L951.7,849.0 L952.6,852.2 L953.5,855.5 L954.5,858.8 L955.4,862.1 L956.3,865.4 L957.2,868.6 L958.2,871.9 L959.1,875.2 L960.0,878.5 L960.9,881.8 L961.9,885.0 L962.8,888.3 L963.7,891.6 L964.6,894.9 L965.5,898.2 L966.4,901.5 L967.3,904.7 L968.2,908.0 L969.1,911.3 L970.0,914.6 L970.9,917.9 L971.8,921.2 L972.7,924.5 L973.6,927.7 L974.5,931.0 L975.4,934.3 L976.3,937.6 L977.2,940.9 L978.1,944.2 L979.0,947.5 L979.9,950.8 L980.8,954.1 L981.7,957.3 L982.6,960.6 L983.4,963.9 L984.3,967.2 L985.2,970.5 L986.1,973.8 L987.0,977.1 L987.8,980.4 L988.7,983.7 L989.6,987.0 L990.5,990.3 L991.3,993.6 L992.2,996.9 L993.1,1000.2 L993.9,1003.5 L994.8,1006.7 L995.7,1010.0 L996.5,1013.3 L997.4,1016.6 L998.3,1019.9 L999.1,1023.2 L1000.0,1026.5 L1000.9,1029.8 L1001.7,1033.1 L1002.6,1036.4 L1003.4,1039.7 L1004.3,1043.0 L1005.1,1046.3 L1006.0,1049.6 L1006.8,1052.9 L1007.7,1056.3 L1008.5,1059.6 L1009.4,1062.9 L1010.2,1066.2 L1011.1,1069.5 L1011.9,1072.8 L1012.8,1076.1 L1013.6,1079.4 L1014.5,1082.7 L1015.3,1086.0 L1016.1,1089.3 L1017.0,1092.6 L1017.8,1095.9 L1018.7,1099.2 L1019.5,1102.5 L1020.3,1105.9 L1021.2,1109.2 L1022.0,1112.5 L1022.9,1115.8 L1023.7,1119.1 L1024.5,1122.4 L1025.4,1125.7 L1026.2,1129.0 L1027.1,1132.3 L1027.9,1135.6 L1028.8,1138.9 L1029.6,1142.2 L1030.5,1145.5 L1031.3,1148.8 L1032.2,1152.1 L1033.1,1155.4 L1033.9,1158.7 L1034.8,1162.0 L1035.7,1165.3 L1036.6,1168.6 L1037.5,1171.9 L1038.4,1175.2 L1039.3,1178.5 L1040.2,1181.8 L1041.1,1185.1 L1042.0,1188.3 L1043.0,1191.6 L1043.9,1194.9 L1044.9,1198.2 L1045.8,1201.4 L1046.8,1204.7 L1047.8,1208.0 L1048.7,1211.2 L1049.7,1214.5 L1050.7,1217.7 L1051.7,1221.0 L1052.8,1224.2 L1053.8,1227.5 L1054.8,1230.7 L1055.9,1233.9 L1057.0,1237.2 L1058.0,1240.4 L1059.1,1243.6 L1060.2,1246.8 L1061.3,1250.0 L1062.5,1253.2 L1063.6,1256.4 L1064.7,1259.6 L1065.9,1262.8 L1067.1,1266.0 L1068.3,1269.2 L1069.5,1272.4 L1070.7,1275.5 L1072.0,1278.7 L1073.2,1281.9 L1074.5,1285.0"/>
<path d="M186.0,95.0 L189.7,95.2 L193.4,95.3 L197.2,95.5 L200.9,95.6 L204.6,95.8 L208.3,95.9 L212.0,96.1 L215.7,96.2 L219.4,96.3 L223.1,96.4 L226.8,96.5 L230.6,96.6 L234.3,96.7 L238.0,96.8 L241.7,96.9 L245.4,97.0 L249.1,97.1 L252.8,97.1 L256.5,97.2 L260.2,97.3 L263.9,97.3 L267.6,97.4 L271.3,97.4 L275.0,97.5 L278.7,97.5 L282.4,97.5 L286.1,97.6 L289.8,97.6 L293.5,97.6 L297.2,97.6 L300.9,97.6 L304.6,97.7 L308.3,97.7 L312.0,97.7 L315.7,97.7 L319.4,97.7 L323.1,97.7 L326.8,97.6 L330.5,97.6 L334.2,97.6 L337.9,97.6 L341.6,97.6 L345.3,97.6 L349.0,97.5 L352.7,97.5 L356.4,97.5 L360.1,97.5 L363.8,97.4 L367.5,97.4 L371.2,97.4 L374.9,97.3 L378.6,97.3 L382.3,97.2 L386.0,97.2 L389.7,97.2 L393.4,97.1 L397.1,97.1 L400.8,97.0 L404.5,97.0 L408.2,97.0 L411.9,96.9 L415.6,96.9 L419.3,96.8 L423.0,96.8 L426.7,96.7 L430.4,96.7 L434.1,96.6 L437.8,96.6 L441.5,96.6 L445.2,96.5 L448.9,96.5 L452.6,96.4 L456.3,96.4 L460.0,96.4 L463.7,96.3 L467.5,96.3 L471.2,96.3 L474.9,96.2 L478.6,96.2 L482.3,96.2 L486.0,96.2 L489.7,96.1 L493.4,96.1 L497.2,96.1 L500.9,96.1 L504.6,96.1 L508.3,96.1 L512.0,96.0 L515.8,96.0 L519.5,96.0 L523.2,96.0 L526.9,96.0 L530.7,96.1 L534.4,96.1 L538.1,96.1 L541.9,96.1 L545.6,96.1 L549.3,96.2 L553.1,96.2 L556.8,96.2 L560.5,96.3 L564.3,96.3 L568.0,96.3 L571.8,96.4 L575.5,96.5 L579.2,96.5 L583.0,96.6 L586.7,96.7 L590.5,96.7 L594.2,96.8 L598.0,96.9 L601.8,97.0 L605.5,97.1 L609.3,97.2 L613.0,97.3 L616.8,97.4 L620.5,97.6 L624.3,97.7 L628.0,97.9 L631.8,98.0 L635.6,98.2 L639.3,98.4 L643.1,98.6 L646.8,98.9 L650.5,99.1 L654.3,99.4 L658.0,99.7 L661.7,100.0 L665.4,100.3 L669.2,100.6 L672.9,101.0 L676.6,101.4 L680.3,101.8 L683.9,102.3 L687.6,102.7 L691.3,103.2 L694.9,103.8 L698.6,104.3 L702.2,104.9 L705.9,105.6 L709.5,106.2 L713.1,106.9 L716.7,107.6 L720.2,108.4 L723.8,109.2 L727.4,110.0 L730.9,110.9 L734.4,111.8 L737.9,112.8 L741.4,113.8 L744.9,114.8 L748.4,115.9 L751.8,117.0 L755.3,118.2 L758.7,119.4 L762.1,120.7 L765.5,122.0 L768.8,123.3 L772.2,124.7 L775.5,126.2 L778.8,127.7 L782.1,129.2 L785.3,130.8 L788.6,132.4 L791.8,134.1 L795.0,135.8 L798.2,137.6 L801.4,139.4 L804.5,141.2 L807.6,143.1 L810.7,145.0 L813.8,147.0 L816.9,148.9 L819.9,151.0 L822.9,153.1 L825.9,155.2 L828.9,157.3 L831.8,159.5 L834.7,161.7 L837.6,164.0 L840.5,166.3 L843.3,168.6 L846.1,171.0 L848.9,173.4 L851.7,175.8 L854.4,178.3 L857.2,180.8 L859.9,183.3 L862.5,185.9 L865.2,188.5 L867.8,191.1 L870.4,193.7 L873.0,196.4 L875.5,199.1 L878.1,201.9 L880.6,204.6 L883.0,207.4 L885.5,210.2 L887.9,213.1 L890.3,215.9 L892.7,218.8 L895.0,221.7 L897.3,224.7 L899.6,227.6 L901.9,230.6 L904.1,233.6 L906.3,236.7 L908.5,239.7 L910.7,242.8 L912.8,245.9 L914.9,249.0 L917.0,252.1 L919.1,255.2 L921.1,258.4 L923.1,261.6 L925.1,264.8 L927.0,268.0 L929.0,271.2 L930.9,274.4 L932.7,277.7 L934.6,281.0 L936.4,284.2 L938.2,287.5 L939.9,290.8 L941.6,294.2 L943.3,297.5 L945.0,300.8 L946.7,304.2 L948.3,307.5 L949.9,310.9 L951.4,314.3 L953.0,317.7 L954.5,321.1 L956.0,324.5 L957.4,327.9 L958.8,331.3 L960.2,334.7 L961.6,338.1 L963.0,341.6 L964.3,345.0 L965.6,348.5 L966.9,351.9 L968.1,355.4 L969.4,358.8 L970.6,362.3 L971.8,365.8 L972.9,369.3 L974.1,372.8 L975.2,376.3 L976.3,379.8 L977.4,383.3 L978.5,386.8 L979.6,390.3 L980.6,393.9 L981.6,397.4 L982.6,400.9 L983.6,404.5 L984.6,408.0 L985.6,411.6 L986.5,415.1 L987.4,418.7 L988.3,422.2 L989.3,425.8 L990.1,429.4 L991.0,432.9 L991.9,436.5 L992.8,440.1 L993.6,443.7 L994.4,447.3 L995.3,450.9 L996.1,454.5 L996.9,458.1 L997.7,461.7 L998.5,465.3 L999.3,468.9 L1000.1,472.5 L1000.8,476.1 L1001.6,479.7 L1002.4,483.3 L1003.1,486.9 L1003.9,490.5 L1004.6,494.2 L1005.4,497.8 L1006.1,501.4 L1006.8,505.0 L1007.6,508.7 L1008.3,512.3 L1009.0,515.9 L1009.8,519.6 L1010.5,523.2 L1011.2,526.8 L1011.9,530.5 L1012.6,534.1 L1013.4,537.7 L1014.1,541.4 L1014.8,545.0 L1015.5,548.6 L1016.2,552.3 L1016.9,555.9 L1017.6,559.6 L1018.3,563.2 L1019.0,566.9 L1019.6,570.5 L1020.3,574.2 L1021.0,577.8 L1021.7,581.5 L1022.4,585.1 L1023.1,588.8 L1023.7,592.4 L1024.4,596.1 L1025.1,599.7 L1025.7,603.4 L1026.4,607.0 L1027.1,610.7 L1027.7,614.3 L1028.4,618.0 L1029.1,621.6 L1029.7,625.3 L1030.4,629.0 L1031.0,632.6 L1031.7,636.3 L1032.3,639.9 L1033.0,643.6 L1033.6,647.2 L1034.3,650.9 L1034.9,654.6 L1035.6,658.2 L1036.2,661.9 L1036.9,665.5 L1037.5,669.2 L1038.1,672.9 L1038.8,676.5 L1039.4,680.2 L1040.1,683.8 L1040.7,687.5 L1041.3,691.1 L1042.0,694.8 L1042.6,698.5 L1043.2,702.1 L1043.9,705.8 L1044.5,709.4 L1045.1,713.1 L1045.8,716.7 L1046.4,720.4 L1047.0,724.1 L1047.7,727.7 L1048.3,731.4 L1048.9,735.0 L1049.5,738.7 L1050.2,742.3 L1050.8,746.0 L1051.4,749.7 L1052.0,753.3 L1052.7,757.0 L1053.3,760.6 L1053.9,764.3 L1054.5,767.9 L1055.2,771.6 L1055.8,775.3 L1056.4,778.9 L1057.0,782.6 L1057.6,786.2 L1058.2,789.9 L1058.9,793.5 L1059.5,797.2 L1060.1,800.8 L1060.7,804.5 L1061.3,808.2 L1061.9,811.8 L1062.5,815.5 L1063.2,819.1 L1063.8,822.8 L1064.4,826.4 L1065.0,830.1 L1065.6,833.7 L1066.2,837.4 L1066.8,841.1 L1067.4,844.7 L1068.0,848.4 L1068.7,852.0 L1069.3,855.7 L1069.9,859.3 L1070.5,863.0 L1071.1,866.6 L1071.7,870.3 L1072.3,874.0 L1072.9,877.6 L1073.5,881.3 L1074.1,884.9 L1074.7,888.6 L1075.3,892.2 L1075.9,895.9 L1076.5,899.5 L1077.1,903.2 L1077.7,906.8 L1078.3,910.5 L1078.9,914.2 L1079.5,917.8 L1080.2,921.5 L1080.8,925.1 L1081.4,928.8 L1082.0,932.4 L1082.6,936.1 L1083.2,939.7 L1083.8,943.4 L1084.4,947.0 L1085.0,950.7 L1085.6,954.4 L1086.2,958.0 L1086.8,961.7 L1087.4,965.3 L1088.0,969.0 L1088.6,972.6 L1089.2,976.3 L1089.8,979.9 L1090.4,983.6 L1091.0,987.2 L1091.6,990.9 L1092.2,994.6 L1092.8,998.2 L1093.4,1001.9 L1094.0,1005.5 L1094.6,1009.2 L1095.2,1012.8 L1095.8,1016.5 L1096.4,1020.1 L1097.0,1023.8 L1097.6,1027.4 L1098.2,1031.1 L1098.8,1034.8 L1099.4,1038.4 L1100.0,1042.1 L1100.6,1045.7 L1101.2,1049.4 L1101.8,1053.0 L1102.4,1056.7 L1103.0,1060.3 L1103.6,1064.0 L1104.2,1067.6 L1104.8,1071.3 L1105.4,1075.0 L1106.0,1078.6 L1106.6,1082.3 L1107.2,1085.9 L1107.8,1089.6 L1108.4,1093.2 L1109.0,1096.9 L1109.6,1100.5 L1110.3,1104.2 L1110.9,1107.8 L1111.5,1111.5 L1112.1,1115.2 L1112.7,1118.8 L1113.3,1122.5 L1113.9,1126.1 L1114.5,1129.8 L1115.1,1133.4 L1115.7,1137.1 L1116.3,1140.7 L1116.9,1144.4 L1117.6,1148.1 L1118.2,1151.7 L1118.8,1155.4 L1119.4,1159.0 L1120.0,1162.7 L1120.6,1166.3 L1121.2,1170.0 L1121.8,1173.6 L1122.5,1177.3 L1123.1,1181.0 L1123.7,1184.6 L1124.3,1188.3 L1124.9,1191.9 L1125.5,1195.6 L1126.1,1199.2 L1126.8,1202.9 L1127.4,1206.5 L1128.0,1210.2 L1128.6,1213.9 L1129.2,1217.5 L1129.9,1221.2 L1130.5,1224.8 L1131.1,1228.5 L1131.7,1232.1 L1132.4,1235.8 L1133.0,1239.5 L1133.6,1243.1 L1134.2,1246.8 L1134.9,1250.4 L1135.5,1254.1 L1136.1,1257.7 L1136.8,1261.4 L1137.4,1265.1 L1138.0,1268.7 L1138.6,1272.4 L1139.3,1276.0 L1139.9,1279.7 L1140.5,1283.3 L1141.2,1287.0"/>
<path d="M186.0,94.5 L189.8,94.5 L193.7,94.5 L197.5,94.5 L201.3,94.5 L205.2,94.5 L209.0,94.5 L212.8,94.5 L216.6,94.6 L220.5,94.6 L224.3,94.6 L228.1,94.6 L231.9,94.6 L235.7,94.6 L239.6,94.7 L243.4,94.7 L247.2,94.7 L251.0,94.7 L254.8,94.8 L258.6,94.8 L262.5,94.8 L266.3,94.8 L270.1,94.9 L273.9,94.9 L277.7,94.9 L281.5,94.9 L285.3,95.0 L289.1,95.0 L292.9,95.0 L296.7,95.1 L300.5,95.1 L304.3,95.1 L308.1,95.2 L311.9,95.2 L315.7,95.2 L319.5,95.3 L323.3,95.3 L327.1,95.3 L330.9,95.4 L334.7,95.4 L338.5,95.5 L342.3,95.5 L346.1,95.5 L349.9,95.6 L353.7,95.6 L357.5,95.6 L361.3,95.7 L365.1,95.7 L368.9,95.8 L372.7,95.8 L376.5,95.8 L380.3,95.9 L384.1,95.9 L387.9,96.0 L391.7,96.0 L395.5,96.0 L399.3,96.1 L403.1,96.1 L406.9,96.1 L410.6,96.2 L414.4,96.2 L418.2,96.3 L422.0,96.3 L425.8,96.3 L429.6,96.4 L433.4,96.4 L437.2,96.4 L441.0,96.5 L444.8,96.5 L448.6,96.5 L452.4,96.6 L456.2,96.6 L460.0,96.6 L463.8,96.7 L467.6,96.7 L471.4,96.7 L475.2,96.7 L479.0,96.8 L482.8,96.8 L486.6,96.8 L490.4,96.8 L494.2,96.9 L498.0,96.9 L501.8,96.9 L505.6,96.9 L509.4,96.9 L513.2,97.0 L517.0,97.0 L520.8,97.0 L524.6,97.0 L528.4,97.0 L532.3,97.0 L536.1,97.0 L539.9,97.0 L543.7,97.0 L547.5,97.0 L551.3,97.1 L555.1,97.1 L558.9,97.1 L562.8,97.1 L566.6,97.1 L570.4,97.0 L574.2,97.0 L578.0,97.0 L581.9,97.0 L585.7,97.0 L589.5,97.0 L593.3,97.0 L597.2,97.0 L601.0,97.0 L604.8,96.9 L608.7,96.9 L612.5,96.9 L616.3,96.9 L620.2,96.9 L624.0,96.9 L627.8,96.8 L631.7,96.9 L635.5,96.9 L639.3,96.9 L643.2,96.9 L647.0,97.0 L650.8,97.0 L654.6,97.1 L658.5,97.2 L662.3,97.3 L666.1,97.4 L669.9,97.5 L673.7,97.7 L677.6,97.8 L681.4,98.0 L685.2,98.3 L689.0,98.5 L692.8,98.8 L696.6,99.1 L700.3,99.4 L704.1,99.7 L707.9,100.1 L711.7,100.6 L715.4,101.0 L719.2,101.5 L723.0,102.0 L726.7,102.6 L730.5,103.2 L734.2,103.8 L737.9,104.5 L741.6,105.2 L745.4,105.9 L749.1,106.7 L752.8,107.6 L756.5,108.4 L760.2,109.4 L763.8,110.4 L767.5,111.4 L771.1,112.5 L774.8,113.6 L778.4,114.8 L782.0,116.0 L785.6,117.3 L789.2,118.6 L792.8,119.9 L796.4,121.3 L799.9,122.8 L803.4,124.3 L806.9,125.8 L810.4,127.4 L813.8,129.1 L817.3,130.8 L820.7,132.5 L824.0,134.3 L827.4,136.1 L830.7,138.0 L834.0,139.9 L837.3,141.9 L840.5,143.9 L843.7,145.9 L846.9,148.0 L850.0,150.2 L853.1,152.4 L856.2,154.6 L859.2,156.9 L862.2,159.2 L865.1,161.6 L868.0,164.0 L870.9,166.5 L873.7,169.0 L876.5,171.5 L879.3,174.1 L881.9,176.8 L884.6,179.4 L887.2,182.2 L889.8,184.9 L892.3,187.7 L894.8,190.6 L897.2,193.4 L899.6,196.4 L902.0,199.3 L904.3,202.3 L906.6,205.3 L908.8,208.4 L911.0,211.4 L913.1,214.5 L915.2,217.7 L917.3,220.9 L919.3,224.0 L921.3,227.3 L923.3,230.5 L925.2,233.8 L927.1,237.1 L928.9,240.4 L930.7,243.8 L932.4,247.1 L934.2,250.5 L935.8,253.9 L937.5,257.3 L939.1,260.8 L940.7,264.2 L942.2,267.7 L943.8,271.2 L945.3,274.6 L946.8,278.1 L948.2,281.7 L949.7,285.2 L951.1,288.7 L952.5,292.2 L953.9,295.8 L955.3,299.3 L956.7,302.9 L958.1,306.4 L959.4,310.0 L960.8,313.6 L962.2,317.1 L963.5,320.7 L964.9,324.2 L966.2,327.8 L967.6,331.4 L968.9,334.9 L970.2,338.5 L971.6,342.1 L972.9,345.6 L974.2,349.2 L975.5,352.8 L976.8,356.3 L978.2,359.9 L979.5,363.5 L980.8,367.1 L982.1,370.6 L983.4,374.2 L984.7,377.8 L986.0,381.4 L987.3,385.0 L988.5,388.5 L989.8,392.1 L991.1,395.7 L992.4,399.3 L993.7,402.9 L994.9,406.5 L996.2,410.1 L997.5,413.6 L998.7,417.2 L1000.0,420.8 L1001.2,424.4 L1002.5,428.0 L1003.8,431.6 L1005.0,435.2 L1006.3,438.8 L1007.5,442.4 L1008.8,446.0 L1010.0,449.6 L1011.2,453.1 L1012.5,456.7 L1013.7,460.3 L1015.0,463.9 L1016.2,467.5 L1017.4,471.1 L1018.7,474.7 L1019.9,478.3 L1021.1,481.9 L1022.3,485.5 L1023.6,489.1 L1024.8,492.7 L1026.0,496.3 L1027.2,499.9 L1028.5,503.5 L1029.7,507.1 L1030.9,510.7 L1032.1,514.3 L1033.4,517.9 L1034.6,521.5 L1035.8,525.1 L1037.0,528.7 L1038.2,532.3 L1039.5,535.9 L1040.7,539.5 L1041.9,543.1 L1043.1,546.7 L1044.3,550.3 L1045.6,553.9 L1046.8,557.5 L1048.0,561.1 L1049.2,564.7 L1050.4,568.3 L1051.7,571.9 L1052.9,575.5 L1054.1,579.1 L1055.3,582.7 L1056.5,586.3 L1057.8,589.9 L1059.0,593.5 L1060.2,597.1 L1061.4,600.7 L1062.7,604.3 L1063.9,607.9 L1065.1,611.5 L1066.4,615.1 L1067.6,618.7 L1068.8,622.3 L1070.1,625.9 L1071.3,629.5 L1072.5,633.1 L1073.8,636.7 L1075.0,640.3 L1076.3,643.8 L1077.5,647.4 L1078.8,651.0 L1080.0,654.6 L1081.3,658.2 L1082.5,661.8 L1083.8,665.4 L1085.0,669.0 L1086.3,672.6 L1087.5,676.1 L1088.8,679.7 L1090.1,683.3 L1091.3,686.9 L1092.6,690.5 L1093.8,694.1 L1095.1,697.7 L1096.4,701.2 L1097.6,704.8 L1098.9,708.4 L1100.1,712.0 L1101.4,715.6 L1102.7,719.2 L1103.9,722.8 L1105.2,726.3 L1106.4,729.9 L1107.7,733.5 L1108.9,737.1 L1110.2,740.7 L1111.4,744.3 L1112.7,747.9 L1113.9,751.5 L1115.2,755.1 L1116.4,758.6 L1117.7,762.2 L1118.9,765.8 L1120.2,769.4 L1121.4,773.0 L1122.6,776.6 L1123.9,780.2 L1125.1,783.8 L1126.3,787.4 L1127.6,791.0 L1128.8,794.6 L1130.0,798.2 L1131.2,801.8 L1132.4,805.4 L1133.6,809.0 L1134.8,812.6 L1136.0,816.2 L1137.2,819.8 L1138.4,823.4 L1139.6,827.0 L1140.8,830.7 L1142.0,834.3 L1143.2,837.9 L1144.4,841.5 L1145.5,845.1 L1146.7,848.7 L1147.8,852.4 L1149.0,856.0 L1150.2,859.6 L1151.3,863.2 L1152.4,866.9 L1153.6,870.5 L1154.7,874.1 L1155.8,877.7 L1157.0,881.4 L1158.1,885.0 L1159.2,888.7 L1160.3,892.3 L1161.4,895.9 L1162.6,899.6 L1163.7,903.2 L1164.8,906.8 L1165.9,910.5 L1167.0,914.1 L1168.1,917.8 L1169.2,921.4 L1170.3,925.1 L1171.4,928.7 L1172.4,932.4 L1173.5,936.0 L1174.6,939.7 L1175.7,943.3 L1176.8,946.9 L1177.9,950.6 L1179.0,954.2 L1180.0,957.9 L1181.1,961.5 L1182.2,965.2 L1183.3,968.9 L1184.4,972.5 L1185.5,976.2 L1186.5,979.8 L1187.6,983.5 L1188.7,987.1 L1189.8,990.8 L1190.9,994.4 L1191.9,998.1 L1193.0,1001.7 L1194.1,1005.4 L1195.2,1009.0 L1196.3,1012.7 L1197.4,1016.3 L1198.5,1020.0 L1199.6,1023.6 L1200.6,1027.3 L1201.7,1030.9 L1202.8,1034.6 L1203.9,1038.2 L1205.0,1041.9 L1206.1,1045.5 L1207.2,1049.2 L1208.3,1052.8 L1209.4,1056.4 L1210.5,1060.1 L1211.6,1063.7 L1212.7,1067.4 L1213.8,1071.0 L1214.9,1074.7 L1216.0,1078.3 L1217.1,1082.0 L1218.2,1085.6 L1219.3,1089.3 L1220.4,1092.9 L1221.5,1096.6 L1222.6,1100.2 L1223.7,1103.9 L1224.8,1107.5 L1225.9,1111.1 L1227.0,1114.8 L1228.1,1118.4 L1229.2,1122.1 L1230.4,1125.7 L1231.5,1129.4 L1232.6,1133.0 L1233.7,1136.6 L1234.8,1140.3 L1235.9,1143.9 L1237.1,1147.6 L1238.2,1151.2 L1239.3,1154.8 L1240.4,1158.5 L1241.5,1162.1 L1242.7,1165.8 L1243.8,1169.4 L1244.9,1173.0 L1246.0,1176.7 L1247.2,1180.3 L1248.3,1184.0 L1249.4,1187.6 L1250.6,1191.2 L1251.7,1194.9 L1252.8,1198.5 L1254.0,1202.1 L1255.1,1205.8 L1256.3,1209.4 L1257.4,1213.0 L1258.5,1216.7 L1259.7,1220.3 L1260.8,1223.9 L1262.0,1227.6 L1263.1,1231.2 L1264.3,1234.8 L1265.4,1238.5 L1266.6,1242.1 L1267.7,1245.7 L1268.9,1249.3 L1270.0,1253.0 L1271.2,1256.6 L1272.3,1260.2 L1273.5,1263.9 L1274.7,1267.5 L1275.8,1271.1 L1277.0,1274.7 L1278.2,1278.4 L1279.3,1282.0 L1280.5,1285.6"/>
<path d="M243.5,85.7 L247.1,85.8 L250.6,86.0 L254.2,86.2 L257.7,86.3 L261.3,86.4 L264.8,86.6 L268.4,86.7 L272.0,86.9 L275.5,87.0 L279.1,87.1 L282.7,87.2 L286.3,87.3 L289.8,87.5 L293.4,87.6 L297.0,87.7 L300.6,87.8 L304.2,87.9 L307.8,88.0 L311.4,88.1 L315.0,88.3 L318.6,88.4 L322.2,88.5 L325.8,88.6 L329.4,88.7 L333.0,88.8 L336.7,88.9 L340.3,89.1 L343.9,89.2 L347.5,89.3 L351.1,89.4 L354.8,89.6 L358.4,89.7 L362.0,89.8 L365.6,90.0 L369.3,90.1 L372.9,90.3 L376.5,90.4 L380.2,90.6 L383.8,90.8 L387.4,90.9 L391.1,91.1 L394.7,91.3 L398.4,91.5 L402.0,91.7 L405.7,91.9 L409.3,92.1 L412.9,92.3 L416.6,92.6 L420.2,92.8 L423.9,93.1 L427.5,93.3 L431.2,93.6 L434.8,93.9 L438.5,94.1 L442.1,94.4 L445.8,94.8 L449.4,95.1 L453.0,95.4 L456.7,95.7 L460.3,96.1 L464.0,96.5 L467.6,96.8 L471.3,97.2 L474.9,97.6 L478.6,98.1 L482.2,98.5 L485.9,98.9 L489.5,99.4 L493.2,99.9 L496.8,100.4 L500.4,100.9 L504.1,101.4 L507.7,101.9 L511.3,102.5 L515.0,103.0 L518.6,103.6 L522.2,104.2 L525.8,104.9 L529.4,105.5 L533.0,106.2 L536.6,106.9 L540.2,107.6 L543.8,108.3 L547.4,109.0 L550.9,109.8 L554.5,110.6 L558.1,111.4 L561.6,112.2 L565.2,113.1 L568.7,113.9 L572.2,114.8 L575.7,115.8 L579.2,116.7 L582.7,117.7 L586.2,118.7 L589.6,119.7 L593.1,120.8 L596.5,121.8 L600.0,122.9 L603.4,124.1 L606.8,125.2 L610.2,126.4 L613.6,127.6 L616.9,128.8 L620.3,130.1 L623.6,131.4 L626.9,132.7 L630.2,134.1 L633.5,135.5 L636.8,136.9 L640.1,138.4 L643.3,139.8 L646.5,141.3 L649.7,142.9 L652.9,144.5 L656.1,146.1 L659.2,147.7 L662.4,149.4 L665.5,151.1 L668.6,152.8 L671.7,154.6 L674.7,156.3 L677.8,158.1 L680.8,160.0 L683.9,161.9 L686.9,163.7 L689.9,165.7 L692.8,167.6 L695.8,169.6 L698.7,171.6 L701.7,173.6 L704.6,175.6 L707.5,177.7 L710.4,179.8 L713.3,181.9 L716.1,184.1 L719.0,186.2 L721.8,188.4 L724.6,190.6 L727.4,192.8 L730.2,195.1 L733.0,197.4 L735.7,199.6 L738.5,202.0 L741.2,204.3 L743.9,206.6 L746.7,209.0 L749.3,211.4 L752.0,213.8 L754.7,216.2 L757.4,218.7 L760.0,221.1 L762.6,223.6 L765.3,226.1 L767.9,228.6 L770.5,231.1 L773.1,233.7 L775.6,236.2 L778.2,238.8 L780.7,241.4 L783.3,244.0 L785.8,246.6 L788.3,249.2 L790.8,251.8 L793.3,254.5 L795.8,257.2 L798.3,259.8 L800.8,262.5 L803.2,265.2 L805.7,267.9 L808.1,270.6 L810.5,273.3 L812.9,276.1 L815.3,278.8 L817.7,281.6 L820.1,284.3 L822.5,287.1 L824.8,289.9 L827.2,292.7 L829.6,295.4 L831.9,298.2 L834.2,301.0 L836.5,303.8 L838.9,306.7 L841.2,309.5 L843.5,312.3 L845.8,315.1 L848.0,318.0 L850.3,320.8 L852.6,323.6 L854.8,326.5 L857.1,329.3 L859.3,332.2 L861.5,335.1 L863.8,337.9 L866.0,340.8 L868.2,343.7 L870.4,346.6 L872.6,349.5 L874.8,352.4 L877.0,355.3 L879.1,358.2 L881.3,361.1 L883.5,364.0 L885.6,366.9 L887.8,369.8 L889.9,372.7 L892.0,375.7 L894.2,378.6 L896.3,381.6 L898.4,384.5 L900.5,387.4 L902.6,390.4 L904.7,393.3 L906.8,396.3 L908.8,399.3 L910.9,402.2 L913.0,405.2 L915.1,408.2 L917.1,411.2 L919.2,414.1 L921.2,417.1 L923.2,420.1 L925.3,423.1 L927.3,426.1 L929.3,429.1 L931.4,432.1 L933.4,435.1 L935.4,438.1 L937.4,441.1 L939.4,444.2 L941.4,447.2 L943.4,450.2 L945.3,453.2 L947.3,456.3 L949.3,459.3 L951.3,462.3 L953.2,465.4 L955.2,468.4 L957.1,471.5 L959.1,474.5 L961.0,477.6 L963.0,480.6 L964.9,483.7 L966.9,486.7 L968.8,489.8 L970.7,492.8 L972.7,495.9 L974.6,499.0 L976.5,502.0 L978.4,505.1 L980.3,508.2 L982.2,511.3 L984.1,514.3 L986.0,517.4 L987.9,520.5 L989.8,523.6 L991.7,526.7 L993.6,529.8 L995.5,532.9 L997.4,535.9 L999.2,539.0 L1001.1,542.1 L1003.0,545.2 L1004.9,548.3 L1006.7,551.4 L1008.6,554.5 L1010.5,557.6 L1012.3,560.7 L1014.2,563.8 L1016.1,567.0 L1017.9,570.1 L1019.8,573.2 L1021.6,576.3 L1023.5,579.4 L1025.3,582.5 L1027.2,585.6 L1029.0,588.7 L1030.9,591.9 L1032.7,595.0 L1034.6,598.1 L1036.4,601.2 L1038.3,604.3 L1040.1,607.4 L1041.9,610.6 L1043.8,613.7 L1045.6,616.8 L1047.5,619.9 L1049.3,623.1 L1051.1,626.2 L1053.0,629.3 L1054.8,632.4 L1056.6,635.5 L1058.5,638.7 L1060.3,641.8 L1062.2,644.9 L1064.0,648.0 L1065.8,651.2 L1067.7,654.3 L1069.5,657.4 L1071.3,660.5 L1073.2,663.7 L1075.0,666.8 L1076.8,669.9 L1078.7,673.0 L1080.5,676.1 L1082.4,679.3 L1084.2,682.4 L1086.0,685.5 L1087.9,688.6 L1089.7,691.8 L1091.6,694.9 L1093.4,698.0 L1095.3,701.1 L1097.1,704.2 L1099.0,707.3 L1100.8,710.5 L1102.7,713.6 L1104.5,716.7 L1106.4,719.8 L1108.2,722.9 L1110.1,726.0 L1111.9,729.1 L1113.8,732.2 L1115.7,735.3 L1117.5,738.4 L1119.4,741.6 L1121.2,744.7 L1123.1,747.8 L1125.0,750.9 L1126.8,754.0 L1128.7,757.1 L1130.6,760.2 L1132.5,763.3 L1134.3,766.4 L1136.2,769.5 L1138.1,772.6 L1139.9,775.7 L1141.8,778.8 L1143.7,781.9 L1145.6,785.0 L1147.5,788.1 L1149.3,791.2 L1151.2,794.3 L1153.1,797.4 L1155.0,800.5 L1156.9,803.6 L1158.7,806.7 L1160.6,809.8 L1162.5,812.8 L1164.4,815.9 L1166.3,819.0 L1168.2,822.1 L1170.0,825.2 L1171.9,828.3 L1173.8,831.4 L1175.7,834.5 L1177.6,837.6 L1179.5,840.7 L1181.4,843.8 L1183.3,846.9 L1185.1,849.9 L1187.0,853.0 L1188.9,856.1 L1190.8,859.2 L1192.7,862.3 L1194.6,865.4 L1196.5,868.5 L1198.4,871.6 L1200.3,874.7 L1202.2,877.8 L1204.1,880.8 L1205.9,883.9 L1207.8,887.0 L1209.7,890.1 L1211.6,893.2 L1213.5,896.3 L1215.4,899.4 L1217.3,902.5 L1219.2,905.5 L1221.1,908.6 L1223.0,911.7 L1224.9,914.8 L1226.8,917.9 L1228.6,921.0 L1230.5,924.1 L1232.4,927.2 L1234.3,930.3 L1236.2,933.3 L1238.1,936.4 L1240.0,939.5 L1241.9,942.6 L1243.8,945.7 L1245.7,948.8 L1247.6,951.9 L1249.4,955.0 L1251.3,958.1 L1253.2,961.1 L1255.1,964.2 L1257.0,967.3 L1258.9,970.4 L1260.8,973.5 L1262.6,976.6 L1264.5,979.7 L1266.4,982.8 L1268.3,985.9 L1270.2,989.0 L1272.1,992.1 L1273.9,995.2 L1275.8,998.3 L1277.7,1001.3 L1279.6,1004.4 L1281.5,1007.5 L1283.3,1010.6 L1285.2,1013.7 L1287.1,1016.8 L1289.0,1019.9 L1290.9,1023.0 L1292.7,1026.1 L1294.6,1029.2 L1296.5,1032.3 L1298.3,1035.4 L1300.2,1038.5 L1302.1,1041.6 L1303.9,1044.7 L1305.8,1047.8 L1307.7,1050.9 L1309.5,1054.0 L1311.4,1057.1 L1313.3,1060.2 L1315.1,1063.4 L1317.0,1066.5 L1318.9,1069.6 L1320.7,1072.7 L1322.6,1075.8 L1324.4,1078.9 L1326.3,1082.0 L1328.1,1085.1 L1330.0,1088.2 L1331.8,1091.3 L1333.7,1094.5 L1335.5,1097.6 L1337.4,1100.7 L1339.2,1103.8 L1341.1,1106.9 L1342.9,1110.0 L1344.7,1113.1 L1346.6,1116.3 L1348.4,1119.4 L1350.3,1122.5 L1352.1,1125.6 L1353.9,1128.8 L1355.8,1131.9 L1357.6,1135.0 L1359.4,1138.1 L1361.2,1141.3 L1363.1,1144.4 L1364.9,1147.5 L1366.7,1150.6 L1368.5,1153.8 L1370.3,1156.9 L1372.2,1160.0 L1374.0,1163.2 L1375.8,1166.3 L1377.6,1169.5 L1379.4,1172.6 L1381.2,1175.7 L1383.0,1178.9 L1384.8,1182.0 L1386.6,1185.2 L1388.4,1188.3 L1390.2,1191.4 L1392.0,1194.6 L1393.8,1197.7 L1395.6,1200.9 L1397.4,1204.0 L1399.1,1207.2 L1400.9,1210.3 L1402.7,1213.5 L1404.5,1216.7 L1406.3,1219.8 L1408.0,1223.0 L1409.8,1226.1 L1411.6,1229.3 L1413.3,1232.5 L1415.1,1235.6 L1416.9,1238.8 L1418.6,1242.0 L1420.4,1245.1 L1422.1,1248.3 L1423.9,1251.5 L1425.6,1254.6 L1427.4,1257.8 L1429.1,1261.0 L1430.9,1264.2 L1432.6,1267.3 L1434.3,1270.5 L1436.1,1273.7 L1437.8,1276.9"/>
<path d="M186.0,95.5 L189.8,95.9 L193.7,96.3 L197.5,96.7 L201.4,97.1 L205.2,97.4 L209.0,97.7 L212.9,98.0 L216.8,98.3 L220.6,98.6 L224.5,98.9 L228.4,99.2 L232.3,99.4 L236.1,99.6 L240.0,99.8 L243.9,100.0 L247.8,100.2 L251.7,100.4 L255.6,100.5 L259.5,100.6 L263.4,100.8 L267.3,100.9 L271.2,101.0 L275.2,101.1 L279.1,101.2 L283.0,101.2 L286.9,101.3 L290.9,101.3 L294.8,101.4 L298.7,101.4 L302.7,101.4 L306.6,101.4 L310.6,101.4 L314.5,101.4 L318.5,101.4 L322.4,101.3 L326.4,101.3 L330.4,101.2 L334.3,101.2 L338.3,101.1 L342.3,101.1 L346.2,101.0 L350.2,100.9 L354.2,100.8 L358.2,100.7 L362.1,100.6 L366.1,100.5 L370.1,100.4 L374.1,100.3 L378.1,100.2 L382.1,100.1 L386.1,100.0 L390.0,99.8 L394.0,99.7 L398.0,99.6 L402.0,99.4 L406.0,99.3 L410.0,99.2 L414.0,99.0 L418.0,98.9 L422.0,98.7 L426.0,98.6 L430.0,98.5 L434.0,98.3 L438.0,98.2 L442.0,98.0 L446.1,97.9 L450.1,97.8 L454.1,97.6 L458.1,97.5 L462.1,97.3 L466.1,97.2 L470.1,97.1 L474.1,97.0 L478.1,96.8 L482.1,96.7 L486.1,96.6 L490.2,96.5 L494.2,96.4 L498.2,96.3 L502.2,96.2 L506.2,96.1 L510.2,96.0 L514.2,95.9 L518.2,95.9 L522.2,95.8 L526.2,95.7 L530.2,95.7 L534.2,95.6 L538.2,95.6 L542.2,95.6 L546.2,95.6 L550.3,95.6 L554.3,95.5 L558.2,95.6 L562.2,95.6 L566.2,95.6 L570.2,95.6 L574.2,95.7 L578.2,95.7 L582.2,95.8 L586.2,95.9 L590.2,96.0 L594.2,96.1 L598.2,96.2 L602.1,96.3 L606.1,96.5 L610.1,96.6 L614.1,96.8 L618.0,97.0 L622.0,97.2 L626.0,97.4 L630.0,97.6 L633.9,97.9 L637.9,98.1 L641.8,98.4 L645.8,98.7 L649.7,99.0 L653.7,99.3 L657.6,99.6 L661.6,100.0 L665.5,100.4 L669.5,100.7 L673.4,101.2 L677.3,101.6 L681.3,102.0 L685.2,102.5 L689.1,103.0 L693.0,103.5 L697.0,104.0 L700.9,104.5 L704.8,105.1 L708.7,105.7 L712.6,106.3 L716.5,106.9 L720.4,107.5 L724.3,108.2 L728.2,108.9 L732.0,109.6 L735.9,110.3 L739.8,111.1 L743.7,111.9 L747.5,112.7 L751.4,113.5 L755.2,114.4 L759.1,115.2 L762.9,116.1 L766.8,117.1 L770.6,118.0 L774.4,119.0 L778.3,120.0 L782.1,121.1 L785.9,122.1 L789.7,123.2 L793.4,124.3 L797.2,125.5 L801.0,126.6 L804.7,127.9 L808.4,129.1 L812.2,130.4 L815.9,131.7 L819.6,133.0 L823.2,134.4 L826.9,135.8 L830.5,137.2 L834.2,138.6 L837.8,140.1 L841.4,141.7 L845.0,143.2 L848.5,144.8 L852.0,146.5 L855.6,148.1 L859.1,149.8 L862.5,151.6 L866.0,153.4 L869.4,155.2 L872.8,157.0 L876.2,158.9 L879.6,160.9 L882.9,162.9 L886.2,164.9 L889.5,166.9 L892.8,169.0 L896.0,171.1 L899.2,173.3 L902.4,175.5 L905.6,177.7 L908.7,180.0 L911.8,182.3 L914.9,184.6 L918.0,187.0 L921.1,189.4 L924.1,191.8 L927.1,194.3 L930.1,196.8 L933.1,199.3 L936.0,201.9 L938.9,204.5 L941.8,207.1 L944.7,209.7 L947.6,212.4 L950.4,215.1 L953.2,217.8 L956.0,220.6 L958.8,223.4 L961.5,226.2 L964.3,229.0 L967.0,231.9 L969.7,234.7 L972.3,237.6 L975.0,240.6 L977.6,243.5 L980.2,246.5 L982.8,249.5 L985.4,252.5 L988.0,255.5 L990.5,258.6 L993.0,261.7 L995.5,264.8 L998.0,267.9 L1000.5,271.0 L1002.9,274.2 L1005.4,277.3 L1007.8,280.5 L1010.2,283.7 L1012.6,286.9 L1014.9,290.1 L1017.3,293.4 L1019.6,296.6 L1021.9,299.9 L1024.2,303.2 L1026.5,306.5 L1028.8,309.8 L1031.0,313.1 L1033.2,316.4 L1035.5,319.8 L1037.7,323.1 L1039.8,326.5 L1042.0,329.8 L1044.2,333.2 L1046.3,336.6 L1048.4,340.0 L1050.5,343.4 L1052.6,346.8 L1054.7,350.2 L1056.8,353.6 L1058.8,357.0 L1060.9,360.5 L1062.9,363.9 L1064.9,367.3 L1066.9,370.8 L1068.9,374.2 L1070.9,377.7 L1072.8,381.1 L1074.8,384.6 L1076.7,388.0 L1078.7,391.5 L1080.6,395.0 L1082.5,398.5 L1084.4,402.0 L1086.2,405.4 L1088.1,408.9 L1089.9,412.4 L1091.8,415.9 L1093.6,419.5 L1095.4,423.0 L1097.2,426.5 L1099.0,430.0 L1100.8,433.5 L1102.6,437.1 L1104.4,440.6 L1106.1,444.1 L1107.9,447.7 L1109.6,451.2 L1111.3,454.8 L1113.0,458.3 L1114.7,461.9 L1116.4,465.5 L1118.1,469.0 L1119.8,472.6 L1121.5,476.2 L1123.1,479.8 L1124.8,483.3 L1126.4,486.9 L1128.0,490.5 L1129.7,494.1 L1131.3,497.7 L1132.9,501.3 L1134.5,504.9 L1136.1,508.5 L1137.7,512.1 L1139.2,515.7 L1140.8,519.3 L1142.4,523.0 L1143.9,526.6 L1145.5,530.2 L1147.0,533.8 L1148.6,537.5 L1150.1,541.1 L1151.6,544.7 L1153.1,548.4 L1154.7,552.0 L1156.2,555.6 L1157.7,559.3 L1159.2,562.9 L1160.7,566.6 L1162.1,570.2 L1163.6,573.9 L1165.1,577.5 L1166.6,581.2 L1168.0,584.9 L1169.5,588.5 L1171.0,592.2 L1172.4,595.8 L1173.9,599.5 L1175.3,603.2 L1176.7,606.8 L1178.2,610.5 L1179.6,614.2 L1181.1,617.9 L1182.5,621.5 L1183.9,625.2 L1185.3,628.9 L1186.7,632.6 L1188.2,636.3 L1189.6,639.9 L1191.0,643.6 L1192.4,647.3 L1193.8,651.0 L1195.2,654.7 L1196.6,658.4 L1198.0,662.1 L1199.4,665.7 L1200.8,669.4 L1202.2,673.1 L1203.6,676.8 L1205.0,680.5 L1206.4,684.2 L1207.8,687.9 L1209.2,691.6 L1210.6,695.3 L1212.0,699.0 L1213.4,702.7 L1214.8,706.4 L1216.2,710.0 L1217.6,713.7 L1219.0,717.4 L1220.4,721.1 L1221.8,724.8 L1223.2,728.5 L1224.6,732.2 L1226.0,735.9 L1227.4,739.6 L1228.8,743.3 L1230.2,747.0 L1231.6,750.7 L1233.0,754.4 L1234.4,758.1 L1235.8,761.8 L1237.2,765.5 L1238.6,769.2 L1240.0,772.9 L1241.4,776.6 L1242.8,780.3 L1244.2,784.0 L1245.6,787.6 L1247.0,791.3 L1248.4,795.0 L1249.8,798.7 L1251.2,802.4 L1252.6,806.1 L1254.0,809.8 L1255.3,813.5 L1256.7,817.2 L1258.1,820.9 L1259.5,824.6 L1260.9,828.3 L1262.3,832.0 L1263.7,835.7 L1265.1,839.4 L1266.5,843.1 L1267.9,846.8 L1269.3,850.5 L1270.7,854.2 L1272.1,857.9 L1273.5,861.6 L1274.9,865.3 L1276.3,869.0 L1277.7,872.7 L1279.1,876.4 L1280.5,880.1 L1281.9,883.8 L1283.2,887.5 L1284.6,891.2 L1286.0,895.0 L1287.4,898.7 L1288.8,902.4 L1290.2,906.1 L1291.6,909.8 L1293.0,913.5 L1294.4,917.2 L1295.7,920.9 L1297.1,924.6 L1298.5,928.3 L1299.9,932.0 L1301.3,935.7 L1302.7,939.4 L1304.0,943.1 L1305.4,946.8 L1306.8,950.5 L1308.2,954.2 L1309.6,957.9 L1310.9,961.7 L1312.3,965.4 L1313.7,969.1 L1315.1,972.8 L1316.4,976.5 L1317.8,980.2 L1319.2,983.9 L1320.6,987.6 L1321.9,991.3 L1323.3,995.0 L1324.7,998.8 L1326.1,1002.5 L1327.4,1006.2 L1328.8,1009.9 L1330.2,1013.6 L1331.5,1017.3 L1332.9,1021.0 L1334.2,1024.7 L1335.6,1028.5 L1337.0,1032.2 L1338.3,1035.9 L1339.7,1039.6 L1341.0,1043.3 L1342.4,1047.0 L1343.8,1050.7 L1345.1,1054.5 L1346.5,1058.2 L1347.8,1061.9 L1349.2,1065.6 L1350.5,1069.3 L1351.9,1073.0 L1353.2,1076.8 L1354.6,1080.5 L1355.9,1084.2 L1357.2,1087.9 L1358.6,1091.6 L1359.9,1095.4 L1361.3,1099.1 L1362.6,1102.8 L1363.9,1106.5 L1365.3,1110.2 L1366.6,1114.0 L1367.9,1117.7 L1369.3,1121.4 L1370.6,1125.1 L1371.9,1128.9 L1373.3,1132.6 L1374.6,1136.3 L1375.9,1140.0 L1377.2,1143.7 L1378.6,1147.5 L1379.9,1151.2 L1381.2,1154.9 L1382.5,1158.7 L1383.8,1162.4 L1385.1,1166.1 L1386.4,1169.8 L1387.8,1173.6 L1389.1,1177.3 L1390.4,1181.0 L1391.7,1184.7 L1393.0,1188.5 L1394.3,1192.2 L1395.6,1195.9 L1396.9,1199.7 L1398.2,1203.4 L1399.5,1207.1 L1400.8,1210.9 L1402.0,1214.6 L1403.3,1218.3 L1404.6,1222.1 L1405.9,1225.8 L1407.2,1229.5 L1408.5,1233.3 L1409.8,1237.0 L1411.0,1240.7 L1412.3,1244.5 L1413.6,1248.2 L1414.8,1251.9 L1416.1,1255.7 L1417.4,1259.4 L1418.7,1263.2 L1419.9,1266.9 L1421.2,1270.6 L1422.4,1274.4 L1423.7,1278.1 L1425.0,1281.9 L1426.2,1285.6"/>
<path d="M186.0,93.5 L190.2,94.0 L194.5,94.5 L198.7,95.0 L202.9,95.5 L207.1,95.9 L211.3,96.4 L215.6,96.8 L219.8,97.2 L224.0,97.6 L228.2,97.9 L232.4,98.3 L236.6,98.6 L240.8,99.0 L245.0,99.3 L249.2,99.6 L253.4,99.9 L257.6,100.1 L261.8,100.4 L265.9,100.6 L270.1,100.9 L274.3,101.1 L278.5,101.3 L282.7,101.5 L286.9,101.7 L291.0,101.8 L295.2,102.0 L299.4,102.1 L303.5,102.3 L307.7,102.4 L311.9,102.5 L316.0,102.6 L320.2,102.7 L324.4,102.7 L328.5,102.8 L332.7,102.9 L336.8,102.9 L341.0,103.0 L345.2,103.0 L349.3,103.0 L353.5,103.0 L357.6,103.0 L361.8,103.0 L365.9,103.0 L370.0,103.0 L374.2,102.9 L378.3,102.9 L382.5,102.8 L386.6,102.8 L390.7,102.7 L394.9,102.7 L399.0,102.6 L403.2,102.5 L407.3,102.4 L411.4,102.3 L415.6,102.2 L419.7,102.1 L423.8,102.0 L427.9,101.9 L432.1,101.8 L436.2,101.7 L440.3,101.5 L444.4,101.4 L448.6,101.3 L452.7,101.1 L456.8,101.0 L460.9,100.8 L465.1,100.7 L469.2,100.5 L473.3,100.4 L477.4,100.2 L481.5,100.1 L485.7,99.9 L489.8,99.7 L493.9,99.6 L498.0,99.4 L502.1,99.2 L506.2,99.1 L510.3,98.9 L514.5,98.7 L518.6,98.6 L522.7,98.4 L526.8,98.2 L530.9,98.1 L535.0,97.9 L539.1,97.7 L543.3,97.6 L547.4,97.4 L551.5,97.2 L555.6,97.1 L559.7,96.9 L563.8,96.8 L567.9,96.6 L572.0,96.4 L576.2,96.3 L580.3,96.2 L584.4,96.0 L588.5,95.9 L592.6,95.7 L596.7,95.6 L600.8,95.5 L604.9,95.3 L609.1,95.2 L613.2,95.1 L617.3,95.0 L621.4,94.9 L625.5,94.8 L629.6,94.7 L633.7,94.6 L637.9,94.5 L642.0,94.5 L646.1,94.4 L650.2,94.3 L654.3,94.3 L658.4,94.2 L662.6,94.2 L666.7,94.1 L670.8,94.1 L674.9,94.1 L679.0,94.1 L683.2,94.1 L687.3,94.1 L691.4,94.1 L695.5,94.1 L699.7,94.2 L703.8,94.2 L707.9,94.3 L712.1,94.3 L716.2,94.4 L720.3,94.5 L724.4,94.6 L728.6,94.7 L732.7,94.8 L736.8,95.0 L741.0,95.1 L745.1,95.2 L749.3,95.4 L753.4,95.6 L757.5,95.8 L761.7,96.0 L765.8,96.2 L770.0,96.4 L774.1,96.7 L778.3,96.9 L782.4,97.2 L786.6,97.5 L790.7,97.8 L794.9,98.1 L799.0,98.4 L803.2,98.7 L807.3,99.1 L811.5,99.4 L815.7,99.8 L819.8,100.2 L824.0,100.6 L828.2,101.1 L832.3,101.5 L836.5,102.0 L840.7,102.5 L844.8,103.0 L849.0,103.5 L853.2,104.1 L857.3,104.6 L861.5,105.2 L865.7,105.8 L869.8,106.5 L874.0,107.1 L878.1,107.8 L882.2,108.6 L886.4,109.3 L890.5,110.1 L894.6,110.9 L898.7,111.7 L902.8,112.6 L906.9,113.5 L911.0,114.5 L915.1,115.4 L919.1,116.4 L923.1,117.5 L927.2,118.6 L931.2,119.7 L935.2,120.9 L939.2,122.1 L943.2,123.3 L947.1,124.6 L951.1,126.0 L955.0,127.3 L958.9,128.7 L962.8,130.2 L966.6,131.7 L970.5,133.3 L974.3,134.9 L978.1,136.5 L981.9,138.2 L985.6,140.0 L989.3,141.7 L993.0,143.6 L996.7,145.4 L1000.3,147.4 L1003.9,149.4 L1007.5,151.4 L1011.0,153.4 L1014.5,155.6 L1018.0,157.7 L1021.4,160.0 L1024.8,162.2 L1028.2,164.5 L1031.5,166.9 L1034.7,169.3 L1038.0,171.8 L1041.2,174.3 L1044.3,176.9 L1047.4,179.6 L1050.5,182.2 L1053.5,185.0 L1056.5,187.8 L1059.4,190.6 L1062.3,193.5 L1065.1,196.4 L1067.9,199.4 L1070.7,202.4 L1073.4,205.5 L1076.1,208.6 L1078.8,211.7 L1081.4,214.9 L1083.9,218.1 L1086.5,221.3 L1089.0,224.6 L1091.5,227.9 L1094.0,231.2 L1096.4,234.6 L1098.8,237.9 L1101.2,241.4 L1103.5,244.8 L1105.8,248.2 L1108.1,251.7 L1110.4,255.2 L1112.7,258.7 L1114.9,262.2 L1117.1,265.7 L1119.3,269.2 L1121.5,272.7 L1123.7,276.3 L1125.8,279.8 L1127.9,283.4 L1130.1,287.0 L1132.1,290.6 L1134.2,294.2 L1136.3,297.8 L1138.3,301.4 L1140.4,305.0 L1142.4,308.6 L1144.4,312.2 L1146.4,315.9 L1148.3,319.5 L1150.3,323.2 L1152.2,326.8 L1154.2,330.5 L1156.1,334.2 L1158.0,337.9 L1159.8,341.5 L1161.7,345.2 L1163.5,349.0 L1165.4,352.7 L1167.2,356.4 L1169.0,360.1 L1170.8,363.8 L1172.6,367.6 L1174.4,371.3 L1176.1,375.1 L1177.9,378.8 L1179.6,382.6 L1181.3,386.4 L1183.0,390.2 L1184.7,393.9 L1186.4,397.7 L1188.0,401.5 L1189.7,405.3 L1191.3,409.1 L1193.0,413.0 L1194.6,416.8 L1196.2,420.6 L1197.8,424.4 L1199.4,428.3 L1201.0,432.1 L1202.5,435.9 L1204.1,439.8 L1205.6,443.6 L1207.2,447.5 L1208.7,451.4 L1210.2,455.2 L1211.7,459.1 L1213.2,463.0 L1214.7,466.9 L1216.2,470.7 L1217.6,474.6 L1219.1,478.5 L1220.5,482.4 L1222.0,486.3 L1223.4,490.2 L1224.8,494.1 L1226.3,498.0 L1227.7,502.0 L1229.1,505.9 L1230.5,509.8 L1231.8,513.7 L1233.2,517.6 L1234.6,521.6 L1236.0,525.5 L1237.3,529.4 L1238.7,533.4 L1240.0,537.3 L1241.3,541.3 L1242.7,545.2 L1244.0,549.2 L1245.3,553.1 L1246.6,557.1 L1247.9,561.0 L1249.2,565.0 L1250.5,568.9 L1251.8,572.9 L1253.1,576.8 L1254.4,580.8 L1255.7,584.8 L1256.9,588.7 L1258.2,592.7 L1259.5,596.7 L1260.7,600.6 L1262.0,604.6 L1263.2,608.6 L1264.5,612.6 L1265.7,616.5 L1266.9,620.5 L1268.2,624.5 L1269.4,628.5 L1270.6,632.4 L1271.9,636.4 L1273.1,640.4 L1274.3,644.4 L1275.5,648.3 L1276.8,652.3 L1278.0,656.3 L1279.2,660.3 L1280.4,664.2 L1281.6,668.2 L1282.8,672.2 L1284.0,676.2 L1285.2,680.1 L1286.4,684.1 L1287.6,688.1 L1288.8,692.1 L1290.0,696.0 L1291.2,700.0 L1292.4,704.0 L1293.6,708.0 L1294.8,711.9 L1295.9,715.9 L1297.1,719.9 L1298.3,723.9 L1299.5,727.8 L1300.7,731.8 L1301.8,735.8 L1303.0,739.8 L1304.2,743.7 L1305.4,747.7 L1306.5,751.7 L1307.7,755.7 L1308.9,759.6 L1310.0,763.6 L1311.2,767.6 L1312.4,771.6 L1313.5,775.5 L1314.7,779.5 L1315.8,783.5 L1317.0,787.5 L1318.1,791.4 L1319.3,795.4 L1320.4,799.4 L1321.6,803.4 L1322.7,807.3 L1323.9,811.3 L1325.0,815.3 L1326.2,819.3 L1327.3,823.3 L1328.5,827.2 L1329.6,831.2 L1330.7,835.2 L1331.9,839.2 L1333.0,843.1 L1334.2,847.1 L1335.3,851.1 L1336.4,855.1 L1337.6,859.0 L1338.7,863.0 L1339.8,867.0 L1341.0,871.0 L1342.1,874.9 L1343.2,878.9 L1344.3,882.9 L1345.5,886.9 L1346.6,890.9 L1347.7,894.8 L1348.9,898.8 L1350.0,902.8 L1351.1,906.8 L1352.2,910.7 L1353.3,914.7 L1354.5,918.7 L1355.6,922.7 L1356.7,926.7 L1357.8,930.6 L1358.9,934.6 L1360.1,938.6 L1361.2,942.6 L1362.3,946.6 L1363.4,950.5 L1364.5,954.5 L1365.6,958.5 L1366.8,962.5 L1367.9,966.5 L1369.0,970.4 L1370.1,974.4 L1371.2,978.4 L1372.3,982.4 L1373.5,986.4 L1374.6,990.3 L1375.7,994.3 L1376.8,998.3 L1377.9,1002.3 L1379.0,1006.3 L1380.1,1010.2 L1381.2,1014.2 L1382.4,1018.2 L1383.5,1022.2 L1384.6,1026.2 L1385.7,1030.2 L1386.8,1034.1 L1387.9,1038.1 L1389.0,1042.1 L1390.1,1046.1 L1391.3,1050.1 L1392.4,1054.1 L1393.5,1058.0 L1394.6,1062.0 L1395.7,1066.0 L1396.8,1070.0 L1397.9,1074.0 L1399.1,1078.0 L1400.2,1082.0 L1401.3,1085.9 L1402.4,1089.9 L1403.5,1093.9 L1404.6,1097.9 L1405.7,1101.9 L1406.9,1105.9 L1408.0,1109.9 L1409.1,1113.9 L1410.2,1117.8 L1411.3,1121.8 L1412.5,1125.8 L1413.6,1129.8 L1414.7,1133.8 L1415.8,1137.8 L1416.9,1141.8 L1418.1,1145.8 L1419.2,1149.8 L1420.3,1153.7 L1421.4,1157.7 L1422.6,1161.7 L1423.7,1165.7 L1424.8,1169.7 L1425.9,1173.7 L1427.1,1177.7 L1428.2,1181.7 L1429.3,1185.7 L1430.5,1189.7 L1431.6,1193.7 L1432.7,1197.7 L1433.9,1201.7 L1435.0,1205.7 L1436.1,1209.6 L1437.3,1213.6 L1438.4,1217.6 L1439.6,1221.6 L1440.7,1225.6 L1441.8,1229.6 L1443.0,1233.6 L1444.1,1237.6 L1445.3,1241.6 L1446.4,1245.6 L1447.6,1249.6 L1448.7,1253.6 L1449.9,1257.6 L1451.0,1261.6 L1452.2,1265.6 L1453.3,1269.6 L1454.5,1273.6 L1455.6,1277.6 L1456.8,1281.6 L1458.0,1285.6"/>
</g>
<g stroke="#000" stroke-width="3.8" fill="none">
<rect x="186" y="33.5" width="1317" height="1311.5" stroke-width="4"/>
<path stroke-linecap="round" d="M255.6,1345V1333.9 M255.6,33.5V44.6 M296.3,1345V1333.9 M296.3,33.5V44.6 M325.1,1345V1333.9 M325.1,33.5V44.6 M347.5,1345V1333.9 M347.5,33.5V44.6 M365.8,1345V1333.9 M365.8,33.5V44.6 M381.3,1345V1333.9 M381.3,33.5V44.6 M394.7,1345V1333.9 M394.7,33.5V44.6 M406.5,1345V1333.9 M406.5,33.5V44.6 M417.1,1345V1325.9 M417.1,33.5V52.6 M486.7,1345V1333.9 M486.7,33.5V44.6 M527.4,1345V1333.9 M527.4,33.5V44.6 M556.2,1345V1333.9 M556.2,33.5V44.6 M578.6,1345V1333.9 M578.6,33.5V44.6 M596.9,1345V1333.9 M596.9,33.5V44.6 M612.4,1345V1333.9 M612.4,33.5V44.6 M625.8,1345V1333.9 M625.8,33.5V44.6 M637.6,1345V1333.9 M637.6,33.5V44.6 M648.2,1345V1325.9 M648.2,33.5V52.6 M717.8,1345V1333.9 M717.8,33.5V44.6 M758.5,1345V1333.9 M758.5,33.5V44.6 M787.3,1345V1333.9 M787.3,33.5V44.6 M809.7,1345V1333.9 M809.7,33.5V44.6 M828.0,1345V1333.9 M828.0,33.5V44.6 M843.5,1345V1333.9 M843.5,33.5V44.6 M856.9,1345V1333.9 M856.9,33.5V44.6 M868.7,1345V1333.9 M868.7,33.5V44.6 M879.3,1345V1325.9 M879.3,33.5V52.6 M948.9,1345V1333.9 M948.9,33.5V44.6 M989.6,1345V1333.9 M989.6,33.5V44.6 M1018.4,1345V1333.9 M1018.4,33.5V44.6 M1040.8,1345V1333.9 M1040.8,33.5V44.6 M1059.1,1345V1333.9 M1059.1,33.5V44.6 M1074.6,1345V1333.9 M1074.6,33.5V44.6 M1088.0,1345V1333.9 M1088.0,33.5V44.6 M1099.8,1345V1333.9 M1099.8,33.5V44.6 M1110.4,1345V1325.9 M1110.4,33.5V52.6 M1180.0,1345V1333.9 M1180.0,33.5V44.6 M1220.7,1345V1333.9 M1220.7,33.5V44.6 M1249.5,1345V1333.9 M1249.5,33.5V44.6 M1271.9,1345V1333.9 M1271.9,33.5V44.6 M1290.2,1345V1333.9 M1290.2,33.5V44.6 M1305.7,1345V1333.9 M1305.7,33.5V44.6 M1319.1,1345V1333.9 M1319.1,33.5V44.6 M1330.9,1345V1333.9 M1330.9,33.5V44.6 M1341.5,1345V1325.9 M1341.5,33.5V52.6 M1411.1,1345V1333.9 M1411.1,33.5V44.6 M1451.8,1345V1333.9 M1451.8,33.5V44.6 M1480.6,1345V1333.9 M1480.6,33.5V44.6 M1503.0,1345V1333.9 M1503.0,33.5V44.6 M186,1297.3H194.1 M1503,1297.3H1494.9 M186,1249.6H194.1 M1503,1249.6H1494.9 M186,1202.0H194.1 M1503,1202.0H1494.9 M186,1154.3H194.1 M1503,1154.3H1494.9 M186,1106.6H199.1 M1503,1106.6H1489.9 M186,1058.9H194.1 M1503,1058.9H1494.9 M186,1011.2H194.1 M1503,1011.2H1494.9 M186,963.6H194.1 M1503,963.6H1494.9 M186,915.9H194.1 M1503,915.9H1494.9 M186,868.2H199.1 M1503,868.2H1489.9 M186,820.5H194.1 M1503,820.5H1494.9 M186,772.8H194.1 M1503,772.8H1494.9 M186,725.2H194.1 M1503,725.2H1494.9 M186,677.5H194.1 M1503,677.5H1494.9 M186,629.8H199.1 M1503,629.8H1489.9 M186,582.1H194.1 M1503,582.1H1494.9 M186,534.4H194.1 M1503,534.4H1494.9 M186,486.8H194.1 M1503,486.8H1494.9 M186,439.1H194.1 M1503,439.1H1494.9 M186,391.4H199.1 M1503,391.4H1489.9 M186,343.7H194.1 M1503,343.7H1494.9 M186,296.0H194.1 M1503,296.0H1494.9 M186,248.4H194.1 M1503,248.4H1494.9 M186,200.7H194.1 M1503,200.7H1494.9 M186,153.0H199.1 M1503,153.0H1489.9 M186,105.3H194.1 M1503,105.3H1494.9 M186,57.6H194.1 M1503,57.6H1494.9"/>
</g>
<g font-size="44" text-anchor="end">
<text x="164" y="1360.2">20</text>
<text x="164" y="1121.8">30</text>
<text x="164" y="883.4">40</text>
<text x="164" y="645.0">50</text>
<text x="164" y="406.6">60</text>
<text x="164" y="168.2">70</text>
</g>
<text x="186.0" y="1406" font-size="44" text-anchor="middle">10<tspan font-size="28" dy="-14">-6</tspan></text>
<text x="417.1" y="1406" font-size="44" text-anchor="middle">10<tspan font-size="28" dy="-14">-5</tspan></text>
<text x="648.2" y="1406" font-size="44" text-anchor="middle">10<tspan font-size="28" dy="-14">-4</tspan></text>
<text x="879.3" y="1406" font-size="44" text-anchor="middle">10<tspan font-size="28" dy="-14">-3</tspan></text>
<text x="1110.4" y="1406" font-size="44" text-anchor="middle">10<tspan font-size="28" dy="-14">-2</tspan></text>
<text x="1341.5" y="1406" font-size="44" text-anchor="middle">10<tspan font-size="28" dy="-14">-1</tspan></text>
<text x="844" y="1502.6" font-size="52.5" text-anchor="middle">concentration, M</text>
<text transform="translate(65.1,759.3) rotate(-90) scale(1.025,1)" font-size="52">, mN/m</text>
<text transform="translate(65.1,786.2) rotate(-90) scale(1.09,1)" font-size="52" style="font-family:'DejaVu Sans',sans-serif;font-style:oblique">σ</text>
<circle cx="292" cy="935.2" r="15.5" fill="#000"/>
<text transform="translate(369,949.6) scale(1,1.03)" font-size="42">C8TAB</text>
<circle cx="292" cy="981" r="13" fill="#fff" stroke="#000" stroke-width="4"/>
<text transform="translate(369,996.4) scale(1,1.05)" font-size="42">C12TAB</text>
<polygon fill="#000" points="276.50,1017.10 307.50,1017.10 307.50,1020.80 292.00,1045.10 276.50,1020.80"/>
<text transform="translate(369,1041.2) scale(1,1.04)" font-size="42">C16TAB</text>
<polygon fill="#000" points="292.00,1057.60 309.50,1075.10 292.00,1092.60 274.50,1075.10"/>
<text transform="translate(369,1090.8) scale(1,1.04)" font-size="47">C18TAB</text>
<polygon fill="#000" points="276.50,1133.40 307.50,1133.40 294.00,1106.40 290.00,1106.40"/><polygon fill="#fff" points="282.20,1129.70 301.80,1129.70 292.00,1113.20"/>
<text transform="translate(369,1137.8) scale(1,1.0)" font-size="41.5">n-octanol</text>
<rect fill="#000" x="278.5" y="1157.0" width="27" height="27"/>
<text transform="translate(369,1184) scale(1,1.04)" font-size="42">MIBC</text>
<rect fill="#000" x="278.5" y="1202.5" width="27" height="27"/><rect fill="#fff" x="282.5" y="1206.5" width="19" height="19"/>
<text transform="translate(369,1230.7) scale(1,1.08)" font-size="41">C4P3</text>
<polygon fill="#000" points="292.00,1246.60 310.00,1264.60 292.00,1282.60 274.00,1264.60"/><polygon fill="#fff" points="292.00,1251.60 305.00,1264.60 292.00,1277.60 279.00,1264.60"/>
<text transform="translate(369,1280.8) scale(1,1.08)" font-size="46">SDS</text>
</svg></body></html>
